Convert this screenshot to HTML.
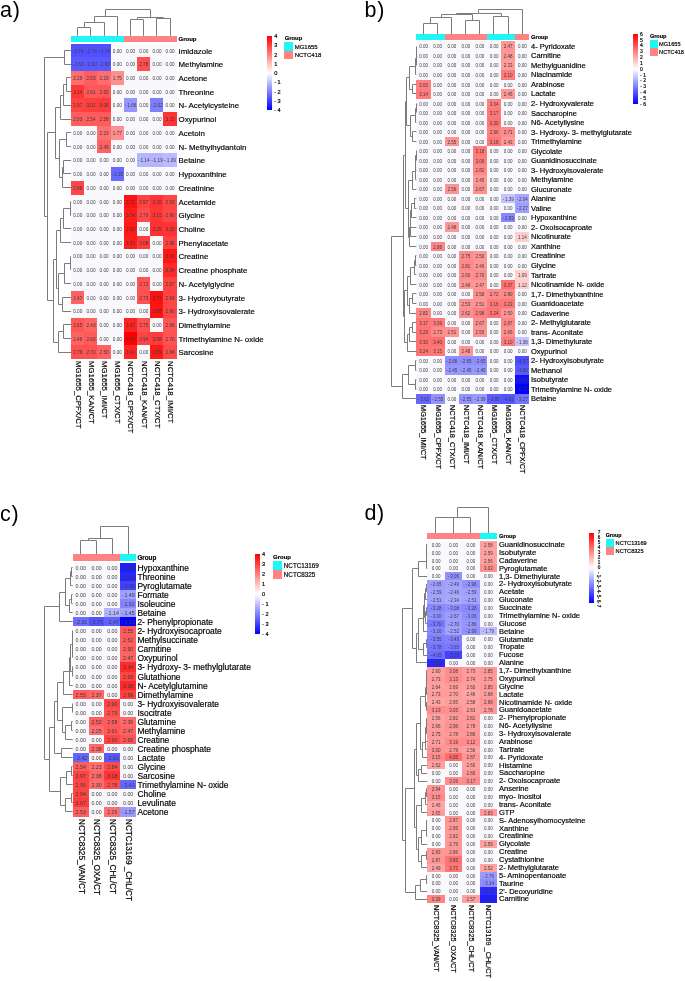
<!DOCTYPE html>
<html><head><meta charset="utf-8"><style>
html,body{margin:0;padding:0;background:#fff;}
body{width:685px;height:981px;position:relative;overflow:hidden;font-family:"Liberation Sans", sans-serif;}
.b{position:absolute;}
.c{position:absolute;text-align:center;color:#3c3c3c;white-space:nowrap;overflow:visible;}
.t{position:absolute;white-space:nowrap;color:#000;-webkit-text-stroke:0.18px #000;}
.gb{font-weight:bold;}
.v{position:absolute;white-space:nowrap;writing-mode:vertical-rl;color:#000;-webkit-text-stroke:0.18px #000;}
svg{position:absolute;left:0;top:0;}
#w{position:absolute;left:0;top:0;width:685px;height:981px;will-change:transform;}
</style></head><body><div id="w">
<div class="b" style="left:71.00px;top:35.80px;width:13.50px;height:6.10px;background:#1ef7f7"></div>
<div class="b" style="left:84.20px;top:35.80px;width:13.50px;height:6.10px;background:#1ef7f7"></div>
<div class="b" style="left:97.40px;top:35.80px;width:13.50px;height:6.10px;background:#1ef7f7"></div>
<div class="b" style="left:110.60px;top:35.80px;width:13.50px;height:6.10px;background:#1ef7f7"></div>
<div class="b" style="left:123.80px;top:35.80px;width:13.50px;height:6.10px;background:#ff8383"></div>
<div class="b" style="left:137.00px;top:35.80px;width:13.50px;height:6.10px;background:#ff8383"></div>
<div class="b" style="left:150.20px;top:35.80px;width:13.50px;height:6.10px;background:#ff8383"></div>
<div class="b" style="left:163.40px;top:35.80px;width:13.50px;height:6.10px;background:#ff8383"></div>
<div class="c" style="left:71.00px;top:43.60px;width:13.50px;height:14.02px;line-height:15.32px;background:rgb(80,80,255);font-size:4.7px">- 2.74</div>
<div class="c" style="left:84.20px;top:43.60px;width:13.50px;height:14.02px;line-height:15.32px;background:rgb(80,80,255);font-size:4.7px">- 2.74</div>
<div class="c" style="left:97.40px;top:43.60px;width:13.50px;height:14.02px;line-height:15.32px;background:rgb(80,80,255);font-size:4.7px">- 2.74</div>
<div class="c" style="left:110.60px;top:43.60px;width:13.50px;height:14.02px;line-height:15.32px;background:#f9f9fd;font-size:4.7px">0.00</div>
<div class="c" style="left:123.80px;top:43.60px;width:13.50px;height:14.02px;line-height:15.32px;background:#f9f9fd;font-size:4.7px">0.00</div>
<div class="c" style="left:137.00px;top:43.60px;width:13.50px;height:14.02px;line-height:15.32px;background:#f9f9fd;font-size:4.7px">0.00</div>
<div class="c" style="left:150.20px;top:43.60px;width:13.50px;height:14.02px;line-height:15.32px;background:#f9f9fd;font-size:4.7px">0.00</div>
<div class="c" style="left:163.40px;top:43.60px;width:13.50px;height:14.02px;line-height:15.32px;background:#f9f9fd;font-size:4.7px">0.00</div>
<div class="c" style="left:71.00px;top:57.32px;width:13.50px;height:14.02px;line-height:15.32px;background:rgb(89,89,255);font-size:4.7px">- 2.60</div>
<div class="c" style="left:84.20px;top:57.32px;width:13.50px;height:14.02px;line-height:15.32px;background:rgb(89,89,255);font-size:4.7px">- 2.60</div>
<div class="c" style="left:97.40px;top:57.32px;width:13.50px;height:14.02px;line-height:15.32px;background:rgb(89,89,255);font-size:4.7px">- 2.60</div>
<div class="c" style="left:110.60px;top:57.32px;width:13.50px;height:14.02px;line-height:15.32px;background:#f9f9fd;font-size:4.7px">0.00</div>
<div class="c" style="left:123.80px;top:57.32px;width:13.50px;height:14.02px;line-height:15.32px;background:#f9f9fd;font-size:4.7px">0.00</div>
<div class="c" style="left:137.00px;top:57.32px;width:13.50px;height:14.02px;line-height:15.32px;background:rgb(255,78,78);font-size:4.7px">2.78</div>
<div class="c" style="left:150.20px;top:57.32px;width:13.50px;height:14.02px;line-height:15.32px;background:#f9f9fd;font-size:4.7px">0.00</div>
<div class="c" style="left:163.40px;top:57.32px;width:13.50px;height:14.02px;line-height:15.32px;background:#f9f9fd;font-size:4.7px">0.00</div>
<div class="c" style="left:71.00px;top:71.04px;width:13.50px;height:14.02px;line-height:15.32px;background:rgb(255,109,109);font-size:4.7px">2.29</div>
<div class="c" style="left:84.20px;top:71.04px;width:13.50px;height:14.02px;line-height:15.32px;background:rgb(255,94,94);font-size:4.7px">2.53</div>
<div class="c" style="left:97.40px;top:71.04px;width:13.50px;height:14.02px;line-height:15.32px;background:rgb(255,109,109);font-size:4.7px">2.29</div>
<div class="c" style="left:110.60px;top:71.04px;width:13.50px;height:14.02px;line-height:15.32px;background:rgb(255,143,143);font-size:4.7px">1.75</div>
<div class="c" style="left:123.80px;top:71.04px;width:13.50px;height:14.02px;line-height:15.32px;background:#f9f9fd;font-size:4.7px">0.00</div>
<div class="c" style="left:137.00px;top:71.04px;width:13.50px;height:14.02px;line-height:15.32px;background:#f9f9fd;font-size:4.7px">0.00</div>
<div class="c" style="left:150.20px;top:71.04px;width:13.50px;height:14.02px;line-height:15.32px;background:#f9f9fd;font-size:4.7px">0.00</div>
<div class="c" style="left:163.40px;top:71.04px;width:13.50px;height:14.02px;line-height:15.32px;background:#f9f9fd;font-size:4.7px">0.00</div>
<div class="c" style="left:71.00px;top:84.76px;width:13.50px;height:14.02px;line-height:15.32px;background:rgb(255,55,55);font-size:4.7px">3.14</div>
<div class="c" style="left:84.20px;top:84.76px;width:13.50px;height:14.02px;line-height:15.32px;background:rgb(255,89,89);font-size:4.7px">2.61</div>
<div class="c" style="left:97.40px;top:84.76px;width:13.50px;height:14.02px;line-height:15.32px;background:rgb(255,86,86);font-size:4.7px">2.65</div>
<div class="c" style="left:110.60px;top:84.76px;width:13.50px;height:14.02px;line-height:15.32px;background:#f9f9fd;font-size:4.7px">0.00</div>
<div class="c" style="left:123.80px;top:84.76px;width:13.50px;height:14.02px;line-height:15.32px;background:#f9f9fd;font-size:4.7px">0.00</div>
<div class="c" style="left:137.00px;top:84.76px;width:13.50px;height:14.02px;line-height:15.32px;background:#f9f9fd;font-size:4.7px">0.00</div>
<div class="c" style="left:150.20px;top:84.76px;width:13.50px;height:14.02px;line-height:15.32px;background:#f9f9fd;font-size:4.7px">0.00</div>
<div class="c" style="left:163.40px;top:84.76px;width:13.50px;height:14.02px;line-height:15.32px;background:#f9f9fd;font-size:4.7px">0.00</div>
<div class="c" style="left:71.00px;top:98.48px;width:13.50px;height:14.02px;line-height:15.32px;background:rgb(255,66,66);font-size:4.7px">2.97</div>
<div class="c" style="left:84.20px;top:98.48px;width:13.50px;height:14.02px;line-height:15.32px;background:rgb(255,62,62);font-size:4.7px">3.02</div>
<div class="c" style="left:97.40px;top:98.48px;width:13.50px;height:14.02px;line-height:15.32px;background:rgb(255,60,60);font-size:4.7px">3.06</div>
<div class="c" style="left:110.60px;top:98.48px;width:13.50px;height:14.02px;line-height:15.32px;background:#f9f9fd;font-size:4.7px">0.00</div>
<div class="c" style="left:123.80px;top:98.48px;width:13.50px;height:14.02px;line-height:15.32px;background:rgb(149,149,255);font-size:4.7px">- 1.66</div>
<div class="c" style="left:137.00px;top:98.48px;width:13.50px;height:14.02px;line-height:15.32px;background:#f9f9fd;font-size:4.7px">0.00</div>
<div class="c" style="left:150.20px;top:98.48px;width:13.50px;height:14.02px;line-height:15.32px;background:rgb(126,126,255);font-size:4.7px">- 2.02</div>
<div class="c" style="left:163.40px;top:98.48px;width:13.50px;height:14.02px;line-height:15.32px;background:#f9f9fd;font-size:4.7px">0.00</div>
<div class="c" style="left:71.00px;top:112.20px;width:13.50px;height:14.02px;line-height:15.32px;background:rgb(255,94,94);font-size:4.7px">2.53</div>
<div class="c" style="left:84.20px;top:112.20px;width:13.50px;height:14.02px;line-height:15.32px;background:rgb(255,93,93);font-size:4.7px">2.54</div>
<div class="c" style="left:97.40px;top:112.20px;width:13.50px;height:14.02px;line-height:15.32px;background:rgb(255,91,91);font-size:4.7px">2.58</div>
<div class="c" style="left:110.60px;top:112.20px;width:13.50px;height:14.02px;line-height:15.32px;background:#f9f9fd;font-size:4.7px">0.00</div>
<div class="c" style="left:123.80px;top:112.20px;width:13.50px;height:14.02px;line-height:15.32px;background:#f9f9fd;font-size:4.7px">0.00</div>
<div class="c" style="left:137.00px;top:112.20px;width:13.50px;height:14.02px;line-height:15.32px;background:#f9f9fd;font-size:4.7px">0.00</div>
<div class="c" style="left:150.20px;top:112.20px;width:13.50px;height:14.02px;line-height:15.32px;background:#f9f9fd;font-size:4.7px">0.00</div>
<div class="c" style="left:163.40px;top:112.20px;width:13.50px;height:14.02px;line-height:15.32px;background:rgb(255,51,51);font-size:4.7px">3.20</div>
<div class="c" style="left:71.00px;top:125.92px;width:13.50px;height:14.02px;line-height:15.32px;background:#f9f9fd;font-size:4.7px">0.00</div>
<div class="c" style="left:84.20px;top:125.92px;width:13.50px;height:14.02px;line-height:15.32px;background:#f9f9fd;font-size:4.7px">0.00</div>
<div class="c" style="left:97.40px;top:125.92px;width:13.50px;height:14.02px;line-height:15.32px;background:rgb(255,113,113);font-size:4.7px">2.23</div>
<div class="c" style="left:110.60px;top:125.92px;width:13.50px;height:14.02px;line-height:15.32px;background:rgb(255,142,142);font-size:4.7px">1.77</div>
<div class="c" style="left:123.80px;top:125.92px;width:13.50px;height:14.02px;line-height:15.32px;background:#f9f9fd;font-size:4.7px">0.00</div>
<div class="c" style="left:137.00px;top:125.92px;width:13.50px;height:14.02px;line-height:15.32px;background:#f9f9fd;font-size:4.7px">0.00</div>
<div class="c" style="left:150.20px;top:125.92px;width:13.50px;height:14.02px;line-height:15.32px;background:#f9f9fd;font-size:4.7px">0.00</div>
<div class="c" style="left:163.40px;top:125.92px;width:13.50px;height:14.02px;line-height:15.32px;background:#f9f9fd;font-size:4.7px">0.00</div>
<div class="c" style="left:71.00px;top:139.64px;width:13.50px;height:14.02px;line-height:15.32px;background:#f9f9fd;font-size:4.7px">0.00</div>
<div class="c" style="left:84.20px;top:139.64px;width:13.50px;height:14.02px;line-height:15.32px;background:#f9f9fd;font-size:4.7px">0.00</div>
<div class="c" style="left:97.40px;top:139.64px;width:13.50px;height:14.02px;line-height:15.32px;background:rgb(255,96,96);font-size:4.7px">2.49</div>
<div class="c" style="left:110.60px;top:139.64px;width:13.50px;height:14.02px;line-height:15.32px;background:#f9f9fd;font-size:4.7px">0.00</div>
<div class="c" style="left:123.80px;top:139.64px;width:13.50px;height:14.02px;line-height:15.32px;background:#f9f9fd;font-size:4.7px">0.00</div>
<div class="c" style="left:137.00px;top:139.64px;width:13.50px;height:14.02px;line-height:15.32px;background:#f9f9fd;font-size:4.7px">0.00</div>
<div class="c" style="left:150.20px;top:139.64px;width:13.50px;height:14.02px;line-height:15.32px;background:#f9f9fd;font-size:4.7px">0.00</div>
<div class="c" style="left:163.40px;top:139.64px;width:13.50px;height:14.02px;line-height:15.32px;background:#f9f9fd;font-size:4.7px">0.00</div>
<div class="c" style="left:71.00px;top:153.36px;width:13.50px;height:14.02px;line-height:15.32px;background:#f9f9fd;font-size:4.7px">0.00</div>
<div class="c" style="left:84.20px;top:153.36px;width:13.50px;height:14.02px;line-height:15.32px;background:#f9f9fd;font-size:4.7px">0.00</div>
<div class="c" style="left:97.40px;top:153.36px;width:13.50px;height:14.02px;line-height:15.32px;background:#f9f9fd;font-size:4.7px">0.00</div>
<div class="c" style="left:110.60px;top:153.36px;width:13.50px;height:14.02px;line-height:15.32px;background:#f9f9fd;font-size:4.7px">0.00</div>
<div class="c" style="left:123.80px;top:153.36px;width:13.50px;height:14.02px;line-height:15.32px;background:#f9f9fd;font-size:4.7px">0.00</div>
<div class="c" style="left:137.00px;top:153.36px;width:13.50px;height:14.02px;line-height:15.32px;background:rgb(182,182,255);font-size:4.7px">- 1.14</div>
<div class="c" style="left:150.20px;top:153.36px;width:13.50px;height:14.02px;line-height:15.32px;background:rgb(179,179,255);font-size:4.7px">- 1.19</div>
<div class="c" style="left:163.40px;top:153.36px;width:13.50px;height:14.02px;line-height:15.32px;background:rgb(186,186,255);font-size:4.7px">- 1.09</div>
<div class="c" style="left:71.00px;top:167.08px;width:13.50px;height:14.02px;line-height:15.32px;background:#f9f9fd;font-size:4.7px">0.00</div>
<div class="c" style="left:84.20px;top:167.08px;width:13.50px;height:14.02px;line-height:15.32px;background:#f9f9fd;font-size:4.7px">0.00</div>
<div class="c" style="left:97.40px;top:167.08px;width:13.50px;height:14.02px;line-height:15.32px;background:#f9f9fd;font-size:4.7px">0.00</div>
<div class="c" style="left:110.60px;top:167.08px;width:13.50px;height:14.02px;line-height:15.32px;background:rgb(105,105,255);font-size:4.7px">- 2.35</div>
<div class="c" style="left:123.80px;top:167.08px;width:13.50px;height:14.02px;line-height:15.32px;background:#f9f9fd;font-size:4.7px">0.00</div>
<div class="c" style="left:137.00px;top:167.08px;width:13.50px;height:14.02px;line-height:15.32px;background:#f9f9fd;font-size:4.7px">0.00</div>
<div class="c" style="left:150.20px;top:167.08px;width:13.50px;height:14.02px;line-height:15.32px;background:#f9f9fd;font-size:4.7px">0.00</div>
<div class="c" style="left:163.40px;top:167.08px;width:13.50px;height:14.02px;line-height:15.32px;background:#f9f9fd;font-size:4.7px">0.00</div>
<div class="c" style="left:71.00px;top:180.80px;width:13.50px;height:14.02px;line-height:15.32px;background:rgb(255,71,71);font-size:4.7px">2.88</div>
<div class="c" style="left:84.20px;top:180.80px;width:13.50px;height:14.02px;line-height:15.32px;background:#f9f9fd;font-size:4.7px">0.00</div>
<div class="c" style="left:97.40px;top:180.80px;width:13.50px;height:14.02px;line-height:15.32px;background:#f9f9fd;font-size:4.7px">0.00</div>
<div class="c" style="left:110.60px;top:180.80px;width:13.50px;height:14.02px;line-height:15.32px;background:#f9f9fd;font-size:4.7px">0.00</div>
<div class="c" style="left:123.80px;top:180.80px;width:13.50px;height:14.02px;line-height:15.32px;background:#f9f9fd;font-size:4.7px">0.00</div>
<div class="c" style="left:137.00px;top:180.80px;width:13.50px;height:14.02px;line-height:15.32px;background:#f9f9fd;font-size:4.7px">0.00</div>
<div class="c" style="left:150.20px;top:180.80px;width:13.50px;height:14.02px;line-height:15.32px;background:#f9f9fd;font-size:4.7px">0.00</div>
<div class="c" style="left:163.40px;top:180.80px;width:13.50px;height:14.02px;line-height:15.32px;background:#f9f9fd;font-size:4.7px">0.00</div>
<div class="c" style="left:71.00px;top:194.52px;width:13.50px;height:14.02px;line-height:15.32px;background:#f9f9fd;font-size:4.7px">0.00</div>
<div class="c" style="left:84.20px;top:194.52px;width:13.50px;height:14.02px;line-height:15.32px;background:#f9f9fd;font-size:4.7px">0.00</div>
<div class="c" style="left:97.40px;top:194.52px;width:13.50px;height:14.02px;line-height:15.32px;background:#f9f9fd;font-size:4.7px">0.00</div>
<div class="c" style="left:110.60px;top:194.52px;width:13.50px;height:14.02px;line-height:15.32px;background:#f9f9fd;font-size:4.7px">0.00</div>
<div class="c" style="left:123.80px;top:194.52px;width:13.50px;height:14.02px;line-height:15.32px;background:rgb(255,18,18);font-size:4.7px">3.72</div>
<div class="c" style="left:137.00px;top:194.52px;width:13.50px;height:14.02px;line-height:15.32px;background:rgb(255,66,66);font-size:4.7px">2.97</div>
<div class="c" style="left:150.20px;top:194.52px;width:13.50px;height:14.02px;line-height:15.32px;background:rgb(255,51,51);font-size:4.7px">3.20</div>
<div class="c" style="left:163.40px;top:194.52px;width:13.50px;height:14.02px;line-height:15.32px;background:rgb(255,69,69);font-size:4.7px">2.92</div>
<div class="c" style="left:71.00px;top:208.24px;width:13.50px;height:14.02px;line-height:15.32px;background:#f9f9fd;font-size:4.7px">0.00</div>
<div class="c" style="left:84.20px;top:208.24px;width:13.50px;height:14.02px;line-height:15.32px;background:#f9f9fd;font-size:4.7px">0.00</div>
<div class="c" style="left:97.40px;top:208.24px;width:13.50px;height:14.02px;line-height:15.32px;background:#f9f9fd;font-size:4.7px">0.00</div>
<div class="c" style="left:110.60px;top:208.24px;width:13.50px;height:14.02px;line-height:15.32px;background:#f9f9fd;font-size:4.7px">0.00</div>
<div class="c" style="left:123.80px;top:208.24px;width:13.50px;height:14.02px;line-height:15.32px;background:rgb(255,29,29);font-size:4.7px">3.54</div>
<div class="c" style="left:137.00px;top:208.24px;width:13.50px;height:14.02px;line-height:15.32px;background:rgb(255,77,77);font-size:4.7px">2.79</div>
<div class="c" style="left:150.20px;top:208.24px;width:13.50px;height:14.02px;line-height:15.32px;background:rgb(255,54,54);font-size:4.7px">3.15</div>
<div class="c" style="left:163.40px;top:208.24px;width:13.50px;height:14.02px;line-height:15.32px;background:rgb(255,70,70);font-size:4.7px">2.90</div>
<div class="c" style="left:71.00px;top:221.96px;width:13.50px;height:14.02px;line-height:15.32px;background:#f9f9fd;font-size:4.7px">0.00</div>
<div class="c" style="left:84.20px;top:221.96px;width:13.50px;height:14.02px;line-height:15.32px;background:#f9f9fd;font-size:4.7px">0.00</div>
<div class="c" style="left:97.40px;top:221.96px;width:13.50px;height:14.02px;line-height:15.32px;background:#f9f9fd;font-size:4.7px">0.00</div>
<div class="c" style="left:110.60px;top:221.96px;width:13.50px;height:14.02px;line-height:15.32px;background:#f9f9fd;font-size:4.7px">0.00</div>
<div class="c" style="left:123.80px;top:221.96px;width:13.50px;height:14.02px;line-height:15.32px;background:rgb(255,24,24);font-size:4.7px">3.62</div>
<div class="c" style="left:137.00px;top:221.96px;width:13.50px;height:14.02px;line-height:15.32px;background:#f9f9fd;font-size:4.7px">0.00</div>
<div class="c" style="left:150.20px;top:221.96px;width:13.50px;height:14.02px;line-height:15.32px;background:rgb(255,48,48);font-size:4.7px">3.25</div>
<div class="c" style="left:163.40px;top:221.96px;width:13.50px;height:14.02px;line-height:15.32px;background:rgb(255,51,51);font-size:4.7px">3.20</div>
<div class="c" style="left:71.00px;top:235.68px;width:13.50px;height:14.02px;line-height:15.32px;background:#f9f9fd;font-size:4.7px">0.00</div>
<div class="c" style="left:84.20px;top:235.68px;width:13.50px;height:14.02px;line-height:15.32px;background:#f9f9fd;font-size:4.7px">0.00</div>
<div class="c" style="left:97.40px;top:235.68px;width:13.50px;height:14.02px;line-height:15.32px;background:#f9f9fd;font-size:4.7px">0.00</div>
<div class="c" style="left:110.60px;top:235.68px;width:13.50px;height:14.02px;line-height:15.32px;background:#f9f9fd;font-size:4.7px">0.00</div>
<div class="c" style="left:123.80px;top:235.68px;width:13.50px;height:14.02px;line-height:15.32px;background:rgb(255,30,30);font-size:4.7px">3.53</div>
<div class="c" style="left:137.00px;top:235.68px;width:13.50px;height:14.02px;line-height:15.32px;background:rgb(255,59,59);font-size:4.7px">3.08</div>
<div class="c" style="left:150.20px;top:235.68px;width:13.50px;height:14.02px;line-height:15.32px;background:#f9f9fd;font-size:4.7px">0.00</div>
<div class="c" style="left:163.40px;top:235.68px;width:13.50px;height:14.02px;line-height:15.32px;background:rgb(255,65,65);font-size:4.7px">2.98</div>
<div class="c" style="left:71.00px;top:249.40px;width:13.50px;height:14.02px;line-height:15.32px;background:#f9f9fd;font-size:4.7px">0.00</div>
<div class="c" style="left:84.20px;top:249.40px;width:13.50px;height:14.02px;line-height:15.32px;background:#f9f9fd;font-size:4.7px">0.00</div>
<div class="c" style="left:97.40px;top:249.40px;width:13.50px;height:14.02px;line-height:15.32px;background:#f9f9fd;font-size:4.7px">0.00</div>
<div class="c" style="left:110.60px;top:249.40px;width:13.50px;height:14.02px;line-height:15.32px;background:#f9f9fd;font-size:4.7px">0.00</div>
<div class="c" style="left:123.80px;top:249.40px;width:13.50px;height:14.02px;line-height:15.32px;background:#f9f9fd;font-size:4.7px">0.00</div>
<div class="c" style="left:137.00px;top:249.40px;width:13.50px;height:14.02px;line-height:15.32px;background:#f9f9fd;font-size:4.7px">0.00</div>
<div class="c" style="left:150.20px;top:249.40px;width:13.50px;height:14.02px;line-height:15.32px;background:#f9f9fd;font-size:4.7px">0.00</div>
<div class="c" style="left:163.40px;top:249.40px;width:13.50px;height:14.02px;line-height:15.32px;background:rgb(255,22,22);font-size:4.7px">3.66</div>
<div class="c" style="left:71.00px;top:263.12px;width:13.50px;height:14.02px;line-height:15.32px;background:#f9f9fd;font-size:4.7px">0.00</div>
<div class="c" style="left:84.20px;top:263.12px;width:13.50px;height:14.02px;line-height:15.32px;background:#f9f9fd;font-size:4.7px">0.00</div>
<div class="c" style="left:97.40px;top:263.12px;width:13.50px;height:14.02px;line-height:15.32px;background:#f9f9fd;font-size:4.7px">0.00</div>
<div class="c" style="left:110.60px;top:263.12px;width:13.50px;height:14.02px;line-height:15.32px;background:#f9f9fd;font-size:4.7px">0.00</div>
<div class="c" style="left:123.80px;top:263.12px;width:13.50px;height:14.02px;line-height:15.32px;background:#f9f9fd;font-size:4.7px">0.00</div>
<div class="c" style="left:137.00px;top:263.12px;width:13.50px;height:14.02px;line-height:15.32px;background:#f9f9fd;font-size:4.7px">0.00</div>
<div class="c" style="left:150.20px;top:263.12px;width:13.50px;height:14.02px;line-height:15.32px;background:#f9f9fd;font-size:4.7px">0.00</div>
<div class="c" style="left:163.40px;top:263.12px;width:13.50px;height:14.02px;line-height:15.32px;background:rgb(255,42,42);font-size:4.7px">3.34</div>
<div class="c" style="left:71.00px;top:276.84px;width:13.50px;height:14.02px;line-height:15.32px;background:#f9f9fd;font-size:4.7px">0.00</div>
<div class="c" style="left:84.20px;top:276.84px;width:13.50px;height:14.02px;line-height:15.32px;background:#f9f9fd;font-size:4.7px">0.00</div>
<div class="c" style="left:97.40px;top:276.84px;width:13.50px;height:14.02px;line-height:15.32px;background:#f9f9fd;font-size:4.7px">0.00</div>
<div class="c" style="left:110.60px;top:276.84px;width:13.50px;height:14.02px;line-height:15.32px;background:#f9f9fd;font-size:4.7px">0.00</div>
<div class="c" style="left:123.80px;top:276.84px;width:13.50px;height:14.02px;line-height:15.32px;background:#f9f9fd;font-size:4.7px">0.00</div>
<div class="c" style="left:137.00px;top:276.84px;width:13.50px;height:14.02px;line-height:15.32px;background:rgb(255,82,82);font-size:4.7px">2.72</div>
<div class="c" style="left:150.20px;top:276.84px;width:13.50px;height:14.02px;line-height:15.32px;background:#f9f9fd;font-size:4.7px">0.00</div>
<div class="c" style="left:163.40px;top:276.84px;width:13.50px;height:14.02px;line-height:15.32px;background:rgb(255,66,66);font-size:4.7px">2.97</div>
<div class="c" style="left:71.00px;top:290.56px;width:13.50px;height:14.02px;line-height:15.32px;background:rgb(255,98,98);font-size:4.7px">2.47</div>
<div class="c" style="left:84.20px;top:290.56px;width:13.50px;height:14.02px;line-height:15.32px;background:#f9f9fd;font-size:4.7px">0.00</div>
<div class="c" style="left:97.40px;top:290.56px;width:13.50px;height:14.02px;line-height:15.32px;background:#f9f9fd;font-size:4.7px">0.00</div>
<div class="c" style="left:110.60px;top:290.56px;width:13.50px;height:14.02px;line-height:15.32px;background:#f9f9fd;font-size:4.7px">0.00</div>
<div class="c" style="left:123.80px;top:290.56px;width:13.50px;height:14.02px;line-height:15.32px;background:#f9f9fd;font-size:4.7px">0.00</div>
<div class="c" style="left:137.00px;top:290.56px;width:13.50px;height:14.02px;line-height:15.32px;background:rgb(255,81,81);font-size:4.7px">2.73</div>
<div class="c" style="left:150.20px;top:290.56px;width:13.50px;height:14.02px;line-height:15.32px;background:rgb(255,16,16);font-size:4.7px">3.75</div>
<div class="c" style="left:163.40px;top:290.56px;width:13.50px;height:14.02px;line-height:15.32px;background:rgb(255,68,68);font-size:4.7px">2.94</div>
<div class="c" style="left:71.00px;top:304.28px;width:13.50px;height:14.02px;line-height:15.32px;background:#f9f9fd;font-size:4.7px">0.00</div>
<div class="c" style="left:84.20px;top:304.28px;width:13.50px;height:14.02px;line-height:15.32px;background:#f9f9fd;font-size:4.7px">0.00</div>
<div class="c" style="left:97.40px;top:304.28px;width:13.50px;height:14.02px;line-height:15.32px;background:#f9f9fd;font-size:4.7px">0.00</div>
<div class="c" style="left:110.60px;top:304.28px;width:13.50px;height:14.02px;line-height:15.32px;background:#f9f9fd;font-size:4.7px">0.00</div>
<div class="c" style="left:123.80px;top:304.28px;width:13.50px;height:14.02px;line-height:15.32px;background:#f9f9fd;font-size:4.7px">0.00</div>
<div class="c" style="left:137.00px;top:304.28px;width:13.50px;height:14.02px;line-height:15.32px;background:#f9f9fd;font-size:4.7px">0.00</div>
<div class="c" style="left:150.20px;top:304.28px;width:13.50px;height:14.02px;line-height:15.32px;background:rgb(255,20,20);font-size:4.7px">3.68</div>
<div class="c" style="left:163.40px;top:304.28px;width:13.50px;height:14.02px;line-height:15.32px;background:rgb(255,70,70);font-size:4.7px">2.90</div>
<div class="c" style="left:71.00px;top:318.00px;width:13.50px;height:14.02px;line-height:15.32px;background:rgb(255,86,86);font-size:4.7px">2.65</div>
<div class="c" style="left:84.20px;top:318.00px;width:13.50px;height:14.02px;line-height:15.32px;background:rgb(255,100,100);font-size:4.7px">2.43</div>
<div class="c" style="left:97.40px;top:318.00px;width:13.50px;height:14.02px;line-height:15.32px;background:#f9f9fd;font-size:4.7px">0.00</div>
<div class="c" style="left:110.60px;top:318.00px;width:13.50px;height:14.02px;line-height:15.32px;background:#f9f9fd;font-size:4.7px">0.00</div>
<div class="c" style="left:123.80px;top:318.00px;width:13.50px;height:14.02px;line-height:15.32px;background:rgb(255,34,34);font-size:4.7px">3.47</div>
<div class="c" style="left:137.00px;top:318.00px;width:13.50px;height:14.02px;line-height:15.32px;background:rgb(255,80,80);font-size:4.7px">2.75</div>
<div class="c" style="left:150.20px;top:318.00px;width:13.50px;height:14.02px;line-height:15.32px;background:#f9f9fd;font-size:4.7px">0.00</div>
<div class="c" style="left:163.40px;top:318.00px;width:13.50px;height:14.02px;line-height:15.32px;background:rgb(255,85,85);font-size:4.7px">2.66</div>
<div class="c" style="left:71.00px;top:331.72px;width:13.50px;height:14.02px;line-height:15.32px;background:rgb(255,98,98);font-size:4.7px">2.46</div>
<div class="c" style="left:84.20px;top:331.72px;width:13.50px;height:14.02px;line-height:15.32px;background:rgb(255,89,89);font-size:4.7px">2.60</div>
<div class="c" style="left:97.40px;top:331.72px;width:13.50px;height:14.02px;line-height:15.32px;background:#f9f9fd;font-size:4.7px">0.00</div>
<div class="c" style="left:110.60px;top:331.72px;width:13.50px;height:14.02px;line-height:15.32px;background:#f9f9fd;font-size:4.7px">0.00</div>
<div class="c" style="left:123.80px;top:331.72px;width:13.50px;height:14.02px;line-height:15.32px;background:rgb(255,0,0);font-size:4.7px">4.09</div>
<div class="c" style="left:137.00px;top:331.72px;width:13.50px;height:14.02px;line-height:15.32px;background:rgb(255,68,68);font-size:4.7px">2.94</div>
<div class="c" style="left:150.20px;top:331.72px;width:13.50px;height:14.02px;line-height:15.32px;background:rgb(255,59,59);font-size:4.7px">3.08</div>
<div class="c" style="left:163.40px;top:331.72px;width:13.50px;height:14.02px;line-height:15.32px;background:rgb(255,83,83);font-size:4.7px">2.70</div>
<div class="c" style="left:71.00px;top:345.44px;width:13.50px;height:14.02px;line-height:15.32px;background:rgb(255,79,79);font-size:4.7px">2.76</div>
<div class="c" style="left:84.20px;top:345.44px;width:13.50px;height:14.02px;line-height:15.32px;background:rgb(255,83,83);font-size:4.7px">2.70</div>
<div class="c" style="left:97.40px;top:345.44px;width:13.50px;height:14.02px;line-height:15.32px;background:rgb(255,96,96);font-size:4.7px">2.50</div>
<div class="c" style="left:110.60px;top:345.44px;width:13.50px;height:14.02px;line-height:15.32px;background:#f9f9fd;font-size:4.7px">0.00</div>
<div class="c" style="left:123.80px;top:345.44px;width:13.50px;height:14.02px;line-height:15.32px;background:rgb(255,37,37);font-size:4.7px">3.42</div>
<div class="c" style="left:137.00px;top:345.44px;width:13.50px;height:14.02px;line-height:15.32px;background:#f9f9fd;font-size:4.7px">0.00</div>
<div class="c" style="left:150.20px;top:345.44px;width:13.50px;height:14.02px;line-height:15.32px;background:rgb(255,26,26);font-size:4.7px">3.59</div>
<div class="c" style="left:163.40px;top:345.44px;width:13.50px;height:14.02px;line-height:15.32px;background:rgb(255,74,74);font-size:4.7px">2.84</div>
<div class="t" style="left:178.50px;top:43.60px;height:13.72px;line-height:16.12px;font-size:7.9px">Imidazole</div>
<div class="t" style="left:178.50px;top:57.32px;height:13.72px;line-height:16.12px;font-size:7.9px">Methylamine</div>
<div class="t" style="left:178.50px;top:71.04px;height:13.72px;line-height:16.12px;font-size:7.9px">Acetone</div>
<div class="t" style="left:178.50px;top:84.76px;height:13.72px;line-height:16.12px;font-size:7.9px">Threonine</div>
<div class="t" style="left:178.50px;top:98.48px;height:13.72px;line-height:16.12px;font-size:7.9px">N- Acetylcysteine</div>
<div class="t" style="left:178.50px;top:112.20px;height:13.72px;line-height:16.12px;font-size:7.9px">Oxypurinol</div>
<div class="t" style="left:178.50px;top:125.92px;height:13.72px;line-height:16.12px;font-size:7.9px">Acetoin</div>
<div class="t" style="left:178.50px;top:139.64px;height:13.72px;line-height:16.12px;font-size:7.9px">N- Methylhydantoin</div>
<div class="t" style="left:178.50px;top:153.36px;height:13.72px;line-height:16.12px;font-size:7.9px">Betaine</div>
<div class="t" style="left:178.50px;top:167.08px;height:13.72px;line-height:16.12px;font-size:7.9px">Hypoxanthine</div>
<div class="t" style="left:178.50px;top:180.80px;height:13.72px;line-height:16.12px;font-size:7.9px">Creatinine</div>
<div class="t" style="left:178.50px;top:194.52px;height:13.72px;line-height:16.12px;font-size:7.9px">Acetamide</div>
<div class="t" style="left:178.50px;top:208.24px;height:13.72px;line-height:16.12px;font-size:7.9px">Glycine</div>
<div class="t" style="left:178.50px;top:221.96px;height:13.72px;line-height:16.12px;font-size:7.9px">Choline</div>
<div class="t" style="left:178.50px;top:235.68px;height:13.72px;line-height:16.12px;font-size:7.9px">Phenylacetate</div>
<div class="t" style="left:178.50px;top:249.40px;height:13.72px;line-height:16.12px;font-size:7.9px">Creatine</div>
<div class="t" style="left:178.50px;top:263.12px;height:13.72px;line-height:16.12px;font-size:7.9px">Creatine phosphate</div>
<div class="t" style="left:178.50px;top:276.84px;height:13.72px;line-height:16.12px;font-size:7.9px">N- Acetylglycine</div>
<div class="t" style="left:178.50px;top:290.56px;height:13.72px;line-height:16.12px;font-size:7.9px">3- Hydroxybutyrate</div>
<div class="t" style="left:178.50px;top:304.28px;height:13.72px;line-height:16.12px;font-size:7.9px">3- Hydroxyisovalerate</div>
<div class="t" style="left:178.50px;top:318.00px;height:13.72px;line-height:16.12px;font-size:7.9px">Dimethylamine</div>
<div class="t" style="left:178.50px;top:331.72px;height:13.72px;line-height:16.12px;font-size:7.9px">Trimethylamine N- oxide</div>
<div class="t" style="left:178.50px;top:345.44px;height:13.72px;line-height:16.12px;font-size:7.9px">Sarcosine</div>
<div class="t gb" style="left:178.50px;top:33.85px;line-height:10px;font-size:6.0px">Group</div>
<div class="v" style="left:72.60px;top:361.00px;width:10px;line-height:10px;font-size:7.8px">MG1655_CPFX/CT</div>
<div class="v" style="left:85.80px;top:361.00px;width:10px;line-height:10px;font-size:7.8px">MG1655_KAN/CT</div>
<div class="v" style="left:99.00px;top:361.00px;width:10px;line-height:10px;font-size:7.8px">MG1655_IMI/CT</div>
<div class="v" style="left:112.20px;top:361.00px;width:10px;line-height:10px;font-size:7.8px">MG1655_CTX/CT</div>
<div class="v" style="left:125.40px;top:361.00px;width:10px;line-height:10px;font-size:7.8px">NCTC418_CPFX/CT</div>
<div class="v" style="left:138.60px;top:361.00px;width:10px;line-height:10px;font-size:7.8px">NCTC418_KAN/CT</div>
<div class="v" style="left:151.80px;top:361.00px;width:10px;line-height:10px;font-size:7.8px">NCTC418_CTX/CT</div>
<div class="v" style="left:165.00px;top:361.00px;width:10px;line-height:10px;font-size:7.8px">NCTC418_IMI/CT</div>
<div class="b" style="left:267.20px;top:35.90px;width:5.20px;height:74.50px;background:linear-gradient(to bottom,#ff0000,#ffffff,#0000ff)"></div>
<div class="t" style="left:274.20px;top:30.90px;line-height:10px;font-size:5.6px">4</div>
<div class="t" style="left:274.20px;top:40.21px;line-height:10px;font-size:5.6px">3</div>
<div class="t" style="left:274.20px;top:49.52px;line-height:10px;font-size:5.6px">2</div>
<div class="t" style="left:274.20px;top:58.84px;line-height:10px;font-size:5.6px">1</div>
<div class="t" style="left:274.20px;top:68.15px;line-height:10px;font-size:5.6px">0</div>
<div class="t" style="left:274.20px;top:77.46px;line-height:10px;font-size:5.6px">- 1</div>
<div class="t" style="left:274.20px;top:86.78px;line-height:10px;font-size:5.6px">- 2</div>
<div class="t" style="left:274.20px;top:96.09px;line-height:10px;font-size:5.6px">- 3</div>
<div class="t" style="left:274.20px;top:105.40px;line-height:10px;font-size:5.6px">- 4</div>
<div class="t gb" style="left:284.80px;top:33.00px;line-height:10px;font-size:5.8px">Group</div>
<div class="b" style="left:284.40px;top:42.40px;width:8.40px;height:8.30px;background:#1ef7f7"></div>
<div class="b" style="left:284.40px;top:50.70px;width:8.40px;height:8.20px;background:#ff8383"></div>
<div class="t" style="left:294.70px;top:41.70px;line-height:10px;font-size:6.0px">MG1655</div>
<div class="t" style="left:294.70px;top:50.00px;line-height:10px;font-size:6.0px">NCTC418</div>
<div class="t" style="left:0.00px;top:-2.20px;line-height:24px;letter-spacing:0.7px;-webkit-text-stroke:0;font-size:21.5px">a)</div>
<div class="b" style="left:416.40px;top:34.40px;width:14.40px;height:5.20px;background:#1ef7f7"></div>
<div class="b" style="left:430.50px;top:34.40px;width:14.40px;height:5.20px;background:#1ef7f7"></div>
<div class="b" style="left:444.60px;top:34.40px;width:14.40px;height:5.20px;background:#ff8383"></div>
<div class="b" style="left:458.70px;top:34.40px;width:14.40px;height:5.20px;background:#ff8383"></div>
<div class="b" style="left:472.80px;top:34.40px;width:14.40px;height:5.20px;background:#ff8383"></div>
<div class="b" style="left:486.90px;top:34.40px;width:14.40px;height:5.20px;background:#1ef7f7"></div>
<div class="b" style="left:501.00px;top:34.40px;width:14.40px;height:5.20px;background:#1ef7f7"></div>
<div class="b" style="left:515.10px;top:34.40px;width:14.40px;height:5.20px;background:#ff8383"></div>
<div class="c" style="left:416.40px;top:41.40px;width:14.40px;height:9.83px;line-height:11.33px;background:#f9f9fd;font-size:4.5px">0.00</div>
<div class="c" style="left:430.50px;top:41.40px;width:14.40px;height:9.83px;line-height:11.33px;background:#f9f9fd;font-size:4.5px">0.00</div>
<div class="c" style="left:444.60px;top:41.40px;width:14.40px;height:9.83px;line-height:11.33px;background:#f9f9fd;font-size:4.5px">0.00</div>
<div class="c" style="left:458.70px;top:41.40px;width:14.40px;height:9.83px;line-height:11.33px;background:#f9f9fd;font-size:4.5px">0.00</div>
<div class="c" style="left:472.80px;top:41.40px;width:14.40px;height:9.83px;line-height:11.33px;background:#f9f9fd;font-size:4.5px">0.00</div>
<div class="c" style="left:486.90px;top:41.40px;width:14.40px;height:9.83px;line-height:11.33px;background:#f9f9fd;font-size:4.5px">0.00</div>
<div class="c" style="left:501.00px;top:41.40px;width:14.40px;height:9.83px;line-height:11.33px;background:rgb(255,150,150);font-size:4.5px">2.47</div>
<div class="c" style="left:515.10px;top:41.40px;width:14.40px;height:9.83px;line-height:11.33px;background:#f9f9fd;font-size:4.5px">0.00</div>
<div class="c" style="left:416.40px;top:50.93px;width:14.40px;height:9.83px;line-height:11.33px;background:#f9f9fd;font-size:4.5px">0.00</div>
<div class="c" style="left:430.50px;top:50.93px;width:14.40px;height:9.83px;line-height:11.33px;background:#f9f9fd;font-size:4.5px">0.00</div>
<div class="c" style="left:444.60px;top:50.93px;width:14.40px;height:9.83px;line-height:11.33px;background:#f9f9fd;font-size:4.5px">0.00</div>
<div class="c" style="left:458.70px;top:50.93px;width:14.40px;height:9.83px;line-height:11.33px;background:#f9f9fd;font-size:4.5px">0.00</div>
<div class="c" style="left:472.80px;top:50.93px;width:14.40px;height:9.83px;line-height:11.33px;background:#f9f9fd;font-size:4.5px">0.00</div>
<div class="c" style="left:486.90px;top:50.93px;width:14.40px;height:9.83px;line-height:11.33px;background:#f9f9fd;font-size:4.5px">0.00</div>
<div class="c" style="left:501.00px;top:50.93px;width:14.40px;height:9.83px;line-height:11.33px;background:rgb(255,150,150);font-size:4.5px">2.48</div>
<div class="c" style="left:515.10px;top:50.93px;width:14.40px;height:9.83px;line-height:11.33px;background:#f9f9fd;font-size:4.5px">0.00</div>
<div class="c" style="left:416.40px;top:60.46px;width:14.40px;height:9.83px;line-height:11.33px;background:#f9f9fd;font-size:4.5px">0.00</div>
<div class="c" style="left:430.50px;top:60.46px;width:14.40px;height:9.83px;line-height:11.33px;background:#f9f9fd;font-size:4.5px">0.00</div>
<div class="c" style="left:444.60px;top:60.46px;width:14.40px;height:9.83px;line-height:11.33px;background:#f9f9fd;font-size:4.5px">0.00</div>
<div class="c" style="left:458.70px;top:60.46px;width:14.40px;height:9.83px;line-height:11.33px;background:#f9f9fd;font-size:4.5px">0.00</div>
<div class="c" style="left:472.80px;top:60.46px;width:14.40px;height:9.83px;line-height:11.33px;background:#f9f9fd;font-size:4.5px">0.00</div>
<div class="c" style="left:486.90px;top:60.46px;width:14.40px;height:9.83px;line-height:11.33px;background:#f9f9fd;font-size:4.5px">0.00</div>
<div class="c" style="left:501.00px;top:60.46px;width:14.40px;height:9.83px;line-height:11.33px;background:rgb(255,156,156);font-size:4.5px">2.33</div>
<div class="c" style="left:515.10px;top:60.46px;width:14.40px;height:9.83px;line-height:11.33px;background:#f9f9fd;font-size:4.5px">0.00</div>
<div class="c" style="left:416.40px;top:69.99px;width:14.40px;height:9.83px;line-height:11.33px;background:#f9f9fd;font-size:4.5px">0.00</div>
<div class="c" style="left:430.50px;top:69.99px;width:14.40px;height:9.83px;line-height:11.33px;background:#f9f9fd;font-size:4.5px">0.00</div>
<div class="c" style="left:444.60px;top:69.99px;width:14.40px;height:9.83px;line-height:11.33px;background:#f9f9fd;font-size:4.5px">0.00</div>
<div class="c" style="left:458.70px;top:69.99px;width:14.40px;height:9.83px;line-height:11.33px;background:#f9f9fd;font-size:4.5px">0.00</div>
<div class="c" style="left:472.80px;top:69.99px;width:14.40px;height:9.83px;line-height:11.33px;background:#f9f9fd;font-size:4.5px">0.00</div>
<div class="c" style="left:486.90px;top:69.99px;width:14.40px;height:9.83px;line-height:11.33px;background:#f9f9fd;font-size:4.5px">0.00</div>
<div class="c" style="left:501.00px;top:69.99px;width:14.40px;height:9.83px;line-height:11.33px;background:rgb(255,123,123);font-size:4.5px">3.10</div>
<div class="c" style="left:515.10px;top:69.99px;width:14.40px;height:9.83px;line-height:11.33px;background:#f9f9fd;font-size:4.5px">0.00</div>
<div class="c" style="left:416.40px;top:79.52px;width:14.40px;height:9.83px;line-height:11.33px;background:rgb(255,128,128);font-size:4.5px">3.00</div>
<div class="c" style="left:430.50px;top:79.52px;width:14.40px;height:9.83px;line-height:11.33px;background:#f9f9fd;font-size:4.5px">0.00</div>
<div class="c" style="left:444.60px;top:79.52px;width:14.40px;height:9.83px;line-height:11.33px;background:#f9f9fd;font-size:4.5px">0.00</div>
<div class="c" style="left:458.70px;top:79.52px;width:14.40px;height:9.83px;line-height:11.33px;background:#f9f9fd;font-size:4.5px">0.00</div>
<div class="c" style="left:472.80px;top:79.52px;width:14.40px;height:9.83px;line-height:11.33px;background:#f9f9fd;font-size:4.5px">0.00</div>
<div class="c" style="left:486.90px;top:79.52px;width:14.40px;height:9.83px;line-height:11.33px;background:#f9f9fd;font-size:4.5px">0.00</div>
<div class="c" style="left:501.00px;top:79.52px;width:14.40px;height:9.83px;line-height:11.33px;background:#f9f9fd;font-size:4.5px">0.00</div>
<div class="c" style="left:515.10px;top:79.52px;width:14.40px;height:9.83px;line-height:11.33px;background:#f9f9fd;font-size:4.5px">0.00</div>
<div class="c" style="left:416.40px;top:89.05px;width:14.40px;height:9.83px;line-height:11.33px;background:rgb(255,122,122);font-size:4.5px">3.14</div>
<div class="c" style="left:430.50px;top:89.05px;width:14.40px;height:9.83px;line-height:11.33px;background:#f9f9fd;font-size:4.5px">0.00</div>
<div class="c" style="left:444.60px;top:89.05px;width:14.40px;height:9.83px;line-height:11.33px;background:#f9f9fd;font-size:4.5px">0.00</div>
<div class="c" style="left:458.70px;top:89.05px;width:14.40px;height:9.83px;line-height:11.33px;background:#f9f9fd;font-size:4.5px">0.00</div>
<div class="c" style="left:472.80px;top:89.05px;width:14.40px;height:9.83px;line-height:11.33px;background:#f9f9fd;font-size:4.5px">0.00</div>
<div class="c" style="left:486.90px;top:89.05px;width:14.40px;height:9.83px;line-height:11.33px;background:#f9f9fd;font-size:4.5px">0.00</div>
<div class="c" style="left:501.00px;top:89.05px;width:14.40px;height:9.83px;line-height:11.33px;background:rgb(255,151,151);font-size:4.5px">2.45</div>
<div class="c" style="left:515.10px;top:89.05px;width:14.40px;height:9.83px;line-height:11.33px;background:#f9f9fd;font-size:4.5px">0.00</div>
<div class="c" style="left:416.40px;top:98.58px;width:14.40px;height:9.83px;line-height:11.33px;background:#f9f9fd;font-size:4.5px">0.00</div>
<div class="c" style="left:430.50px;top:98.58px;width:14.40px;height:9.83px;line-height:11.33px;background:#f9f9fd;font-size:4.5px">0.00</div>
<div class="c" style="left:444.60px;top:98.58px;width:14.40px;height:9.83px;line-height:11.33px;background:#f9f9fd;font-size:4.5px">0.00</div>
<div class="c" style="left:458.70px;top:98.58px;width:14.40px;height:9.83px;line-height:11.33px;background:#f9f9fd;font-size:4.5px">0.00</div>
<div class="c" style="left:472.80px;top:98.58px;width:14.40px;height:9.83px;line-height:11.33px;background:#f9f9fd;font-size:4.5px">0.00</div>
<div class="c" style="left:486.90px;top:98.58px;width:14.40px;height:9.83px;line-height:11.33px;background:rgb(255,126,126);font-size:4.5px">3.04</div>
<div class="c" style="left:501.00px;top:98.58px;width:14.40px;height:9.83px;line-height:11.33px;background:#f9f9fd;font-size:4.5px">0.00</div>
<div class="c" style="left:515.10px;top:98.58px;width:14.40px;height:9.83px;line-height:11.33px;background:#f9f9fd;font-size:4.5px">0.00</div>
<div class="c" style="left:416.40px;top:108.11px;width:14.40px;height:9.83px;line-height:11.33px;background:#f9f9fd;font-size:4.5px">0.00</div>
<div class="c" style="left:430.50px;top:108.11px;width:14.40px;height:9.83px;line-height:11.33px;background:#f9f9fd;font-size:4.5px">0.00</div>
<div class="c" style="left:444.60px;top:108.11px;width:14.40px;height:9.83px;line-height:11.33px;background:#f9f9fd;font-size:4.5px">0.00</div>
<div class="c" style="left:458.70px;top:108.11px;width:14.40px;height:9.83px;line-height:11.33px;background:#f9f9fd;font-size:4.5px">0.00</div>
<div class="c" style="left:472.80px;top:108.11px;width:14.40px;height:9.83px;line-height:11.33px;background:#f9f9fd;font-size:4.5px">0.00</div>
<div class="c" style="left:486.90px;top:108.11px;width:14.40px;height:9.83px;line-height:11.33px;background:rgb(255,120,120);font-size:4.5px">3.17</div>
<div class="c" style="left:501.00px;top:108.11px;width:14.40px;height:9.83px;line-height:11.33px;background:#f9f9fd;font-size:4.5px">0.00</div>
<div class="c" style="left:515.10px;top:108.11px;width:14.40px;height:9.83px;line-height:11.33px;background:#f9f9fd;font-size:4.5px">0.00</div>
<div class="c" style="left:416.40px;top:117.64px;width:14.40px;height:9.83px;line-height:11.33px;background:#f9f9fd;font-size:4.5px">0.00</div>
<div class="c" style="left:430.50px;top:117.64px;width:14.40px;height:9.83px;line-height:11.33px;background:#f9f9fd;font-size:4.5px">0.00</div>
<div class="c" style="left:444.60px;top:117.64px;width:14.40px;height:9.83px;line-height:11.33px;background:#f9f9fd;font-size:4.5px">0.00</div>
<div class="c" style="left:458.70px;top:117.64px;width:14.40px;height:9.83px;line-height:11.33px;background:#f9f9fd;font-size:4.5px">0.00</div>
<div class="c" style="left:472.80px;top:117.64px;width:14.40px;height:9.83px;line-height:11.33px;background:#f9f9fd;font-size:4.5px">0.00</div>
<div class="c" style="left:486.90px;top:117.64px;width:14.40px;height:9.83px;line-height:11.33px;background:rgb(255,115,115);font-size:4.5px">3.30</div>
<div class="c" style="left:501.00px;top:117.64px;width:14.40px;height:9.83px;line-height:11.33px;background:#f9f9fd;font-size:4.5px">0.00</div>
<div class="c" style="left:515.10px;top:117.64px;width:14.40px;height:9.83px;line-height:11.33px;background:#f9f9fd;font-size:4.5px">0.00</div>
<div class="c" style="left:416.40px;top:127.17px;width:14.40px;height:9.83px;line-height:11.33px;background:#f9f9fd;font-size:4.5px">0.00</div>
<div class="c" style="left:430.50px;top:127.17px;width:14.40px;height:9.83px;line-height:11.33px;background:#f9f9fd;font-size:4.5px">0.00</div>
<div class="c" style="left:444.60px;top:127.17px;width:14.40px;height:9.83px;line-height:11.33px;background:#f9f9fd;font-size:4.5px">0.00</div>
<div class="c" style="left:458.70px;top:127.17px;width:14.40px;height:9.83px;line-height:11.33px;background:#f9f9fd;font-size:4.5px">0.00</div>
<div class="c" style="left:472.80px;top:127.17px;width:14.40px;height:9.83px;line-height:11.33px;background:#f9f9fd;font-size:4.5px">0.00</div>
<div class="c" style="left:486.90px;top:127.17px;width:14.40px;height:9.83px;line-height:11.33px;background:rgb(255,129,129);font-size:4.5px">2.96</div>
<div class="c" style="left:501.00px;top:127.17px;width:14.40px;height:9.83px;line-height:11.33px;background:rgb(255,140,140);font-size:4.5px">2.71</div>
<div class="c" style="left:515.10px;top:127.17px;width:14.40px;height:9.83px;line-height:11.33px;background:#f9f9fd;font-size:4.5px">0.00</div>
<div class="c" style="left:416.40px;top:136.70px;width:14.40px;height:9.83px;line-height:11.33px;background:#f9f9fd;font-size:4.5px">0.00</div>
<div class="c" style="left:430.50px;top:136.70px;width:14.40px;height:9.83px;line-height:11.33px;background:#f9f9fd;font-size:4.5px">0.00</div>
<div class="c" style="left:444.60px;top:136.70px;width:14.40px;height:9.83px;line-height:11.33px;background:rgb(255,147,147);font-size:4.5px">2.55</div>
<div class="c" style="left:458.70px;top:136.70px;width:14.40px;height:9.83px;line-height:11.33px;background:#f9f9fd;font-size:4.5px">0.00</div>
<div class="c" style="left:472.80px;top:136.70px;width:14.40px;height:9.83px;line-height:11.33px;background:#f9f9fd;font-size:4.5px">0.00</div>
<div class="c" style="left:486.90px;top:136.70px;width:14.40px;height:9.83px;line-height:11.33px;background:rgb(255,120,120);font-size:4.5px">3.18</div>
<div class="c" style="left:501.00px;top:136.70px;width:14.40px;height:9.83px;line-height:11.33px;background:rgb(255,152,152);font-size:4.5px">2.43</div>
<div class="c" style="left:515.10px;top:136.70px;width:14.40px;height:9.83px;line-height:11.33px;background:#f9f9fd;font-size:4.5px">0.00</div>
<div class="c" style="left:416.40px;top:146.23px;width:14.40px;height:9.83px;line-height:11.33px;background:#f9f9fd;font-size:4.5px">0.00</div>
<div class="c" style="left:430.50px;top:146.23px;width:14.40px;height:9.83px;line-height:11.33px;background:#f9f9fd;font-size:4.5px">0.00</div>
<div class="c" style="left:444.60px;top:146.23px;width:14.40px;height:9.83px;line-height:11.33px;background:#f9f9fd;font-size:4.5px">0.00</div>
<div class="c" style="left:458.70px;top:146.23px;width:14.40px;height:9.83px;line-height:11.33px;background:#f9f9fd;font-size:4.5px">0.00</div>
<div class="c" style="left:472.80px;top:146.23px;width:14.40px;height:9.83px;line-height:11.33px;background:rgb(255,120,120);font-size:4.5px">3.18</div>
<div class="c" style="left:486.90px;top:146.23px;width:14.40px;height:9.83px;line-height:11.33px;background:#f9f9fd;font-size:4.5px">0.00</div>
<div class="c" style="left:501.00px;top:146.23px;width:14.40px;height:9.83px;line-height:11.33px;background:#f9f9fd;font-size:4.5px">0.00</div>
<div class="c" style="left:515.10px;top:146.23px;width:14.40px;height:9.83px;line-height:11.33px;background:#f9f9fd;font-size:4.5px">0.00</div>
<div class="c" style="left:416.40px;top:155.76px;width:14.40px;height:9.83px;line-height:11.33px;background:#f9f9fd;font-size:4.5px">0.00</div>
<div class="c" style="left:430.50px;top:155.76px;width:14.40px;height:9.83px;line-height:11.33px;background:#f9f9fd;font-size:4.5px">0.00</div>
<div class="c" style="left:444.60px;top:155.76px;width:14.40px;height:9.83px;line-height:11.33px;background:#f9f9fd;font-size:4.5px">0.00</div>
<div class="c" style="left:458.70px;top:155.76px;width:14.40px;height:9.83px;line-height:11.33px;background:#f9f9fd;font-size:4.5px">0.00</div>
<div class="c" style="left:472.80px;top:155.76px;width:14.40px;height:9.83px;line-height:11.33px;background:rgb(255,125,125);font-size:4.5px">3.06</div>
<div class="c" style="left:486.90px;top:155.76px;width:14.40px;height:9.83px;line-height:11.33px;background:#f9f9fd;font-size:4.5px">0.00</div>
<div class="c" style="left:501.00px;top:155.76px;width:14.40px;height:9.83px;line-height:11.33px;background:#f9f9fd;font-size:4.5px">0.00</div>
<div class="c" style="left:515.10px;top:155.76px;width:14.40px;height:9.83px;line-height:11.33px;background:#f9f9fd;font-size:4.5px">0.00</div>
<div class="c" style="left:416.40px;top:165.29px;width:14.40px;height:9.83px;line-height:11.33px;background:#f9f9fd;font-size:4.5px">0.00</div>
<div class="c" style="left:430.50px;top:165.29px;width:14.40px;height:9.83px;line-height:11.33px;background:#f9f9fd;font-size:4.5px">0.00</div>
<div class="c" style="left:444.60px;top:165.29px;width:14.40px;height:9.83px;line-height:11.33px;background:#f9f9fd;font-size:4.5px">0.00</div>
<div class="c" style="left:458.70px;top:165.29px;width:14.40px;height:9.83px;line-height:11.33px;background:#f9f9fd;font-size:4.5px">0.00</div>
<div class="c" style="left:472.80px;top:165.29px;width:14.40px;height:9.83px;line-height:11.33px;background:rgb(255,135,135);font-size:4.5px">2.82</div>
<div class="c" style="left:486.90px;top:165.29px;width:14.40px;height:9.83px;line-height:11.33px;background:#f9f9fd;font-size:4.5px">0.00</div>
<div class="c" style="left:501.00px;top:165.29px;width:14.40px;height:9.83px;line-height:11.33px;background:#f9f9fd;font-size:4.5px">0.00</div>
<div class="c" style="left:515.10px;top:165.29px;width:14.40px;height:9.83px;line-height:11.33px;background:#f9f9fd;font-size:4.5px">0.00</div>
<div class="c" style="left:416.40px;top:174.82px;width:14.40px;height:9.83px;line-height:11.33px;background:#f9f9fd;font-size:4.5px">0.00</div>
<div class="c" style="left:430.50px;top:174.82px;width:14.40px;height:9.83px;line-height:11.33px;background:#f9f9fd;font-size:4.5px">0.00</div>
<div class="c" style="left:444.60px;top:174.82px;width:14.40px;height:9.83px;line-height:11.33px;background:#f9f9fd;font-size:4.5px">0.00</div>
<div class="c" style="left:458.70px;top:174.82px;width:14.40px;height:9.83px;line-height:11.33px;background:#f9f9fd;font-size:4.5px">0.00</div>
<div class="c" style="left:472.80px;top:174.82px;width:14.40px;height:9.83px;line-height:11.33px;background:rgb(255,151,151);font-size:4.5px">2.45</div>
<div class="c" style="left:486.90px;top:174.82px;width:14.40px;height:9.83px;line-height:11.33px;background:#f9f9fd;font-size:4.5px">0.00</div>
<div class="c" style="left:501.00px;top:174.82px;width:14.40px;height:9.83px;line-height:11.33px;background:#f9f9fd;font-size:4.5px">0.00</div>
<div class="c" style="left:515.10px;top:174.82px;width:14.40px;height:9.83px;line-height:11.33px;background:#f9f9fd;font-size:4.5px">0.00</div>
<div class="c" style="left:416.40px;top:184.35px;width:14.40px;height:9.83px;line-height:11.33px;background:#f9f9fd;font-size:4.5px">0.00</div>
<div class="c" style="left:430.50px;top:184.35px;width:14.40px;height:9.83px;line-height:11.33px;background:#f9f9fd;font-size:4.5px">0.00</div>
<div class="c" style="left:444.60px;top:184.35px;width:14.40px;height:9.83px;line-height:11.33px;background:rgb(255,146,146);font-size:4.5px">2.56</div>
<div class="c" style="left:458.70px;top:184.35px;width:14.40px;height:9.83px;line-height:11.33px;background:#f9f9fd;font-size:4.5px">0.00</div>
<div class="c" style="left:472.80px;top:184.35px;width:14.40px;height:9.83px;line-height:11.33px;background:rgb(255,142,142);font-size:4.5px">2.67</div>
<div class="c" style="left:486.90px;top:184.35px;width:14.40px;height:9.83px;line-height:11.33px;background:#f9f9fd;font-size:4.5px">0.00</div>
<div class="c" style="left:501.00px;top:184.35px;width:14.40px;height:9.83px;line-height:11.33px;background:#f9f9fd;font-size:4.5px">0.00</div>
<div class="c" style="left:515.10px;top:184.35px;width:14.40px;height:9.83px;line-height:11.33px;background:#f9f9fd;font-size:4.5px">0.00</div>
<div class="c" style="left:416.40px;top:193.88px;width:14.40px;height:9.83px;line-height:11.33px;background:#f9f9fd;font-size:4.5px">0.00</div>
<div class="c" style="left:430.50px;top:193.88px;width:14.40px;height:9.83px;line-height:11.33px;background:#f9f9fd;font-size:4.5px">0.00</div>
<div class="c" style="left:444.60px;top:193.88px;width:14.40px;height:9.83px;line-height:11.33px;background:#f9f9fd;font-size:4.5px">0.00</div>
<div class="c" style="left:458.70px;top:193.88px;width:14.40px;height:9.83px;line-height:11.33px;background:#f9f9fd;font-size:4.5px">0.00</div>
<div class="c" style="left:472.80px;top:193.88px;width:14.40px;height:9.83px;line-height:11.33px;background:#f9f9fd;font-size:4.5px">0.00</div>
<div class="c" style="left:486.90px;top:193.88px;width:14.40px;height:9.83px;line-height:11.33px;background:#f9f9fd;font-size:4.5px">0.00</div>
<div class="c" style="left:501.00px;top:193.88px;width:14.40px;height:9.83px;line-height:11.33px;background:rgb(196,196,255);font-size:4.5px">- 1.39</div>
<div class="c" style="left:515.10px;top:193.88px;width:14.40px;height:9.83px;line-height:11.33px;background:rgb(168,168,255);font-size:4.5px">- 2.04</div>
<div class="c" style="left:416.40px;top:203.41px;width:14.40px;height:9.83px;line-height:11.33px;background:#f9f9fd;font-size:4.5px">0.00</div>
<div class="c" style="left:430.50px;top:203.41px;width:14.40px;height:9.83px;line-height:11.33px;background:#f9f9fd;font-size:4.5px">0.00</div>
<div class="c" style="left:444.60px;top:203.41px;width:14.40px;height:9.83px;line-height:11.33px;background:#f9f9fd;font-size:4.5px">0.00</div>
<div class="c" style="left:458.70px;top:203.41px;width:14.40px;height:9.83px;line-height:11.33px;background:#f9f9fd;font-size:4.5px">0.00</div>
<div class="c" style="left:472.80px;top:203.41px;width:14.40px;height:9.83px;line-height:11.33px;background:#f9f9fd;font-size:4.5px">0.00</div>
<div class="c" style="left:486.90px;top:203.41px;width:14.40px;height:9.83px;line-height:11.33px;background:#f9f9fd;font-size:4.5px">0.00</div>
<div class="c" style="left:501.00px;top:203.41px;width:14.40px;height:9.83px;line-height:11.33px;background:#f9f9fd;font-size:4.5px">0.00</div>
<div class="c" style="left:515.10px;top:203.41px;width:14.40px;height:9.83px;line-height:11.33px;background:rgb(159,159,255);font-size:4.5px">- 2.27</div>
<div class="c" style="left:416.40px;top:212.94px;width:14.40px;height:9.83px;line-height:11.33px;background:#f9f9fd;font-size:4.5px">0.00</div>
<div class="c" style="left:430.50px;top:212.94px;width:14.40px;height:9.83px;line-height:11.33px;background:#f9f9fd;font-size:4.5px">0.00</div>
<div class="c" style="left:444.60px;top:212.94px;width:14.40px;height:9.83px;line-height:11.33px;background:#f9f9fd;font-size:4.5px">0.00</div>
<div class="c" style="left:458.70px;top:212.94px;width:14.40px;height:9.83px;line-height:11.33px;background:#f9f9fd;font-size:4.5px">0.00</div>
<div class="c" style="left:472.80px;top:212.94px;width:14.40px;height:9.83px;line-height:11.33px;background:#f9f9fd;font-size:4.5px">0.00</div>
<div class="c" style="left:486.90px;top:212.94px;width:14.40px;height:9.83px;line-height:11.33px;background:#f9f9fd;font-size:4.5px">0.00</div>
<div class="c" style="left:501.00px;top:212.94px;width:14.40px;height:9.83px;line-height:11.33px;background:rgb(135,135,255);font-size:4.5px">- 2.83</div>
<div class="c" style="left:515.10px;top:212.94px;width:14.40px;height:9.83px;line-height:11.33px;background:#f9f9fd;font-size:4.5px">0.00</div>
<div class="c" style="left:416.40px;top:222.47px;width:14.40px;height:9.83px;line-height:11.33px;background:#f9f9fd;font-size:4.5px">0.00</div>
<div class="c" style="left:430.50px;top:222.47px;width:14.40px;height:9.83px;line-height:11.33px;background:#f9f9fd;font-size:4.5px">0.00</div>
<div class="c" style="left:444.60px;top:222.47px;width:14.40px;height:9.83px;line-height:11.33px;background:rgb(255,150,150);font-size:4.5px">2.48</div>
<div class="c" style="left:458.70px;top:222.47px;width:14.40px;height:9.83px;line-height:11.33px;background:#f9f9fd;font-size:4.5px">0.00</div>
<div class="c" style="left:472.80px;top:222.47px;width:14.40px;height:9.83px;line-height:11.33px;background:#f9f9fd;font-size:4.5px">0.00</div>
<div class="c" style="left:486.90px;top:222.47px;width:14.40px;height:9.83px;line-height:11.33px;background:#f9f9fd;font-size:4.5px">0.00</div>
<div class="c" style="left:501.00px;top:222.47px;width:14.40px;height:9.83px;line-height:11.33px;background:#f9f9fd;font-size:4.5px">0.00</div>
<div class="c" style="left:515.10px;top:222.47px;width:14.40px;height:9.83px;line-height:11.33px;background:#f9f9fd;font-size:4.5px">0.00</div>
<div class="c" style="left:416.40px;top:232.00px;width:14.40px;height:9.83px;line-height:11.33px;background:#f9f9fd;font-size:4.5px">0.00</div>
<div class="c" style="left:430.50px;top:232.00px;width:14.40px;height:9.83px;line-height:11.33px;background:#f9f9fd;font-size:4.5px">0.00</div>
<div class="c" style="left:444.60px;top:232.00px;width:14.40px;height:9.83px;line-height:11.33px;background:#f9f9fd;font-size:4.5px">0.00</div>
<div class="c" style="left:458.70px;top:232.00px;width:14.40px;height:9.83px;line-height:11.33px;background:#f9f9fd;font-size:4.5px">0.00</div>
<div class="c" style="left:472.80px;top:232.00px;width:14.40px;height:9.83px;line-height:11.33px;background:#f9f9fd;font-size:4.5px">0.00</div>
<div class="c" style="left:486.90px;top:232.00px;width:14.40px;height:9.83px;line-height:11.33px;background:#f9f9fd;font-size:4.5px">0.00</div>
<div class="c" style="left:501.00px;top:232.00px;width:14.40px;height:9.83px;line-height:11.33px;background:#f9f9fd;font-size:4.5px">0.00</div>
<div class="c" style="left:515.10px;top:232.00px;width:14.40px;height:9.83px;line-height:11.33px;background:rgb(255,207,207);font-size:4.5px">1.14</div>
<div class="c" style="left:416.40px;top:241.53px;width:14.40px;height:9.83px;line-height:11.33px;background:#f9f9fd;font-size:4.5px">0.00</div>
<div class="c" style="left:430.50px;top:241.53px;width:14.40px;height:9.83px;line-height:11.33px;background:rgb(255,133,133);font-size:4.5px">2.88</div>
<div class="c" style="left:444.60px;top:241.53px;width:14.40px;height:9.83px;line-height:11.33px;background:#f9f9fd;font-size:4.5px">0.00</div>
<div class="c" style="left:458.70px;top:241.53px;width:14.40px;height:9.83px;line-height:11.33px;background:#f9f9fd;font-size:4.5px">0.00</div>
<div class="c" style="left:472.80px;top:241.53px;width:14.40px;height:9.83px;line-height:11.33px;background:#f9f9fd;font-size:4.5px">0.00</div>
<div class="c" style="left:486.90px;top:241.53px;width:14.40px;height:9.83px;line-height:11.33px;background:#f9f9fd;font-size:4.5px">0.00</div>
<div class="c" style="left:501.00px;top:241.53px;width:14.40px;height:9.83px;line-height:11.33px;background:#f9f9fd;font-size:4.5px">0.00</div>
<div class="c" style="left:515.10px;top:241.53px;width:14.40px;height:9.83px;line-height:11.33px;background:#f9f9fd;font-size:4.5px">0.00</div>
<div class="c" style="left:416.40px;top:251.06px;width:14.40px;height:9.83px;line-height:11.33px;background:#f9f9fd;font-size:4.5px">0.00</div>
<div class="c" style="left:430.50px;top:251.06px;width:14.40px;height:9.83px;line-height:11.33px;background:#f9f9fd;font-size:4.5px">0.00</div>
<div class="c" style="left:444.60px;top:251.06px;width:14.40px;height:9.83px;line-height:11.33px;background:#f9f9fd;font-size:4.5px">0.00</div>
<div class="c" style="left:458.70px;top:251.06px;width:14.40px;height:9.83px;line-height:11.33px;background:rgb(255,138,138);font-size:4.5px">2.75</div>
<div class="c" style="left:472.80px;top:251.06px;width:14.40px;height:9.83px;line-height:11.33px;background:rgb(255,149,149);font-size:4.5px">2.50</div>
<div class="c" style="left:486.90px;top:251.06px;width:14.40px;height:9.83px;line-height:11.33px;background:#f9f9fd;font-size:4.5px">0.00</div>
<div class="c" style="left:501.00px;top:251.06px;width:14.40px;height:9.83px;line-height:11.33px;background:#f9f9fd;font-size:4.5px">0.00</div>
<div class="c" style="left:515.10px;top:251.06px;width:14.40px;height:9.83px;line-height:11.33px;background:#f9f9fd;font-size:4.5px">0.00</div>
<div class="c" style="left:416.40px;top:260.59px;width:14.40px;height:9.83px;line-height:11.33px;background:#f9f9fd;font-size:4.5px">0.00</div>
<div class="c" style="left:430.50px;top:260.59px;width:14.40px;height:9.83px;line-height:11.33px;background:#f9f9fd;font-size:4.5px">0.00</div>
<div class="c" style="left:444.60px;top:260.59px;width:14.40px;height:9.83px;line-height:11.33px;background:#f9f9fd;font-size:4.5px">0.00</div>
<div class="c" style="left:458.70px;top:260.59px;width:14.40px;height:9.83px;line-height:11.33px;background:rgb(255,136,136);font-size:4.5px">2.81</div>
<div class="c" style="left:472.80px;top:260.59px;width:14.40px;height:9.83px;line-height:11.33px;background:rgb(255,150,150);font-size:4.5px">2.46</div>
<div class="c" style="left:486.90px;top:260.59px;width:14.40px;height:9.83px;line-height:11.33px;background:#f9f9fd;font-size:4.5px">0.00</div>
<div class="c" style="left:501.00px;top:260.59px;width:14.40px;height:9.83px;line-height:11.33px;background:#f9f9fd;font-size:4.5px">0.00</div>
<div class="c" style="left:515.10px;top:260.59px;width:14.40px;height:9.83px;line-height:11.33px;background:#f9f9fd;font-size:4.5px">0.00</div>
<div class="c" style="left:416.40px;top:270.12px;width:14.40px;height:9.83px;line-height:11.33px;background:#f9f9fd;font-size:4.5px">0.00</div>
<div class="c" style="left:430.50px;top:270.12px;width:14.40px;height:9.83px;line-height:11.33px;background:#f9f9fd;font-size:4.5px">0.00</div>
<div class="c" style="left:444.60px;top:270.12px;width:14.40px;height:9.83px;line-height:11.33px;background:#f9f9fd;font-size:4.5px">0.00</div>
<div class="c" style="left:458.70px;top:270.12px;width:14.40px;height:9.83px;line-height:11.33px;background:rgb(255,144,144);font-size:4.5px">2.60</div>
<div class="c" style="left:472.80px;top:270.12px;width:14.40px;height:9.83px;line-height:11.33px;background:rgb(255,140,140);font-size:4.5px">2.70</div>
<div class="c" style="left:486.90px;top:270.12px;width:14.40px;height:9.83px;line-height:11.33px;background:#f9f9fd;font-size:4.5px">0.00</div>
<div class="c" style="left:501.00px;top:270.12px;width:14.40px;height:9.83px;line-height:11.33px;background:#f9f9fd;font-size:4.5px">0.00</div>
<div class="c" style="left:515.10px;top:270.12px;width:14.40px;height:9.83px;line-height:11.33px;background:rgb(255,209,209);font-size:4.5px">1.09</div>
<div class="c" style="left:416.40px;top:279.65px;width:14.40px;height:9.83px;line-height:11.33px;background:#f9f9fd;font-size:4.5px">0.00</div>
<div class="c" style="left:430.50px;top:279.65px;width:14.40px;height:9.83px;line-height:11.33px;background:#f9f9fd;font-size:4.5px">0.00</div>
<div class="c" style="left:444.60px;top:279.65px;width:14.40px;height:9.83px;line-height:11.33px;background:#f9f9fd;font-size:4.5px">0.00</div>
<div class="c" style="left:458.70px;top:279.65px;width:14.40px;height:9.83px;line-height:11.33px;background:rgb(255,149,149);font-size:4.5px">2.49</div>
<div class="c" style="left:472.80px;top:279.65px;width:14.40px;height:9.83px;line-height:11.33px;background:rgb(255,150,150);font-size:4.5px">2.47</div>
<div class="c" style="left:486.90px;top:279.65px;width:14.40px;height:9.83px;line-height:11.33px;background:#f9f9fd;font-size:4.5px">0.00</div>
<div class="c" style="left:501.00px;top:279.65px;width:14.40px;height:9.83px;line-height:11.33px;background:rgb(255,112,112);font-size:4.5px">3.37</div>
<div class="c" style="left:515.10px;top:279.65px;width:14.40px;height:9.83px;line-height:11.33px;background:rgb(255,207,207);font-size:4.5px">1.12</div>
<div class="c" style="left:416.40px;top:289.18px;width:14.40px;height:9.83px;line-height:11.33px;background:#f9f9fd;font-size:4.5px">0.00</div>
<div class="c" style="left:430.50px;top:289.18px;width:14.40px;height:9.83px;line-height:11.33px;background:#f9f9fd;font-size:4.5px">0.00</div>
<div class="c" style="left:444.60px;top:289.18px;width:14.40px;height:9.83px;line-height:11.33px;background:#f9f9fd;font-size:4.5px">0.00</div>
<div class="c" style="left:458.70px;top:289.18px;width:14.40px;height:9.83px;line-height:11.33px;background:#f9f9fd;font-size:4.5px">0.00</div>
<div class="c" style="left:472.80px;top:289.18px;width:14.40px;height:9.83px;line-height:11.33px;background:rgb(255,145,145);font-size:4.5px">2.58</div>
<div class="c" style="left:486.90px;top:289.18px;width:14.40px;height:9.83px;line-height:11.33px;background:rgb(255,139,139);font-size:4.5px">2.72</div>
<div class="c" style="left:501.00px;top:289.18px;width:14.40px;height:9.83px;line-height:11.33px;background:rgb(255,136,136);font-size:4.5px">2.80</div>
<div class="c" style="left:515.10px;top:289.18px;width:14.40px;height:9.83px;line-height:11.33px;background:#f9f9fd;font-size:4.5px">0.00</div>
<div class="c" style="left:416.40px;top:298.71px;width:14.40px;height:9.83px;line-height:11.33px;background:#f9f9fd;font-size:4.5px">0.00</div>
<div class="c" style="left:430.50px;top:298.71px;width:14.40px;height:9.83px;line-height:11.33px;background:#f9f9fd;font-size:4.5px">0.00</div>
<div class="c" style="left:444.60px;top:298.71px;width:14.40px;height:9.83px;line-height:11.33px;background:#f9f9fd;font-size:4.5px">0.00</div>
<div class="c" style="left:458.70px;top:298.71px;width:14.40px;height:9.83px;line-height:11.33px;background:rgb(255,147,147);font-size:4.5px">2.53</div>
<div class="c" style="left:472.80px;top:298.71px;width:14.40px;height:9.83px;line-height:11.33px;background:rgb(255,148,148);font-size:4.5px">2.51</div>
<div class="c" style="left:486.90px;top:298.71px;width:14.40px;height:9.83px;line-height:11.33px;background:rgb(255,121,121);font-size:4.5px">3.16</div>
<div class="c" style="left:501.00px;top:298.71px;width:14.40px;height:9.83px;line-height:11.33px;background:rgb(255,118,118);font-size:4.5px">3.23</div>
<div class="c" style="left:515.10px;top:298.71px;width:14.40px;height:9.83px;line-height:11.33px;background:#f9f9fd;font-size:4.5px">0.00</div>
<div class="c" style="left:416.40px;top:308.24px;width:14.40px;height:9.83px;line-height:11.33px;background:rgb(255,135,135);font-size:4.5px">2.82</div>
<div class="c" style="left:430.50px;top:308.24px;width:14.40px;height:9.83px;line-height:11.33px;background:#f9f9fd;font-size:4.5px">0.00</div>
<div class="c" style="left:444.60px;top:308.24px;width:14.40px;height:9.83px;line-height:11.33px;background:#f9f9fd;font-size:4.5px">0.00</div>
<div class="c" style="left:458.70px;top:308.24px;width:14.40px;height:9.83px;line-height:11.33px;background:rgb(255,144,144);font-size:4.5px">2.62</div>
<div class="c" style="left:472.80px;top:308.24px;width:14.40px;height:9.83px;line-height:11.33px;background:rgb(255,128,128);font-size:4.5px">2.98</div>
<div class="c" style="left:486.90px;top:308.24px;width:14.40px;height:9.83px;line-height:11.33px;background:rgb(255,117,117);font-size:4.5px">3.24</div>
<div class="c" style="left:501.00px;top:308.24px;width:14.40px;height:9.83px;line-height:11.33px;background:rgb(255,149,149);font-size:4.5px">2.50</div>
<div class="c" style="left:515.10px;top:308.24px;width:14.40px;height:9.83px;line-height:11.33px;background:#f9f9fd;font-size:4.5px">0.00</div>
<div class="c" style="left:416.40px;top:317.77px;width:14.40px;height:9.83px;line-height:11.33px;background:rgb(255,120,120);font-size:4.5px">3.17</div>
<div class="c" style="left:430.50px;top:317.77px;width:14.40px;height:9.83px;line-height:11.33px;background:rgb(255,124,124);font-size:4.5px">3.09</div>
<div class="c" style="left:444.60px;top:317.77px;width:14.40px;height:9.83px;line-height:11.33px;background:#f9f9fd;font-size:4.5px">0.00</div>
<div class="c" style="left:458.70px;top:317.77px;width:14.40px;height:9.83px;line-height:11.33px;background:#f9f9fd;font-size:4.5px">0.00</div>
<div class="c" style="left:472.80px;top:317.77px;width:14.40px;height:9.83px;line-height:11.33px;background:rgb(255,142,142);font-size:4.5px">2.67</div>
<div class="c" style="left:486.90px;top:317.77px;width:14.40px;height:9.83px;line-height:11.33px;background:#f9f9fd;font-size:4.5px">0.00</div>
<div class="c" style="left:501.00px;top:317.77px;width:14.40px;height:9.83px;line-height:11.33px;background:rgb(255,133,133);font-size:4.5px">2.87</div>
<div class="c" style="left:515.10px;top:317.77px;width:14.40px;height:9.83px;line-height:11.33px;background:#f9f9fd;font-size:4.5px">0.00</div>
<div class="c" style="left:416.40px;top:327.30px;width:14.40px;height:9.83px;line-height:11.33px;background:rgb(255,115,115);font-size:4.5px">3.29</div>
<div class="c" style="left:430.50px;top:327.30px;width:14.40px;height:9.83px;line-height:11.33px;background:rgb(255,139,139);font-size:4.5px">2.73</div>
<div class="c" style="left:444.60px;top:327.30px;width:14.40px;height:9.83px;line-height:11.33px;background:rgb(255,148,148);font-size:4.5px">2.51</div>
<div class="c" style="left:458.70px;top:327.30px;width:14.40px;height:9.83px;line-height:11.33px;background:#f9f9fd;font-size:4.5px">0.00</div>
<div class="c" style="left:472.80px;top:327.30px;width:14.40px;height:9.83px;line-height:11.33px;background:rgb(255,147,147);font-size:4.5px">2.55</div>
<div class="c" style="left:486.90px;top:327.30px;width:14.40px;height:9.83px;line-height:11.33px;background:#f9f9fd;font-size:4.5px">0.00</div>
<div class="c" style="left:501.00px;top:327.30px;width:14.40px;height:9.83px;line-height:11.33px;background:rgb(255,142,142);font-size:4.5px">2.66</div>
<div class="c" style="left:515.10px;top:327.30px;width:14.40px;height:9.83px;line-height:11.33px;background:#f9f9fd;font-size:4.5px">0.00</div>
<div class="c" style="left:416.40px;top:336.83px;width:14.40px;height:9.83px;line-height:11.33px;background:rgb(255,115,115);font-size:4.5px">3.30</div>
<div class="c" style="left:430.50px;top:336.83px;width:14.40px;height:9.83px;line-height:11.33px;background:rgb(255,110,110);font-size:4.5px">3.40</div>
<div class="c" style="left:444.60px;top:336.83px;width:14.40px;height:9.83px;line-height:11.33px;background:#f9f9fd;font-size:4.5px">0.00</div>
<div class="c" style="left:458.70px;top:336.83px;width:14.40px;height:9.83px;line-height:11.33px;background:#f9f9fd;font-size:4.5px">0.00</div>
<div class="c" style="left:472.80px;top:336.83px;width:14.40px;height:9.83px;line-height:11.33px;background:#f9f9fd;font-size:4.5px">0.00</div>
<div class="c" style="left:486.90px;top:336.83px;width:14.40px;height:9.83px;line-height:11.33px;background:#f9f9fd;font-size:4.5px">0.00</div>
<div class="c" style="left:501.00px;top:336.83px;width:14.40px;height:9.83px;line-height:11.33px;background:rgb(255,123,123);font-size:4.5px">3.10</div>
<div class="c" style="left:515.10px;top:336.83px;width:14.40px;height:9.83px;line-height:11.33px;background:rgb(196,196,255);font-size:4.5px">- 1.38</div>
<div class="c" style="left:416.40px;top:346.36px;width:14.40px;height:9.83px;line-height:11.33px;background:rgb(255,117,117);font-size:4.5px">3.24</div>
<div class="c" style="left:430.50px;top:346.36px;width:14.40px;height:9.83px;line-height:11.33px;background:rgb(255,121,121);font-size:4.5px">3.15</div>
<div class="c" style="left:444.60px;top:346.36px;width:14.40px;height:9.83px;line-height:11.33px;background:#f9f9fd;font-size:4.5px">0.00</div>
<div class="c" style="left:458.70px;top:346.36px;width:14.40px;height:9.83px;line-height:11.33px;background:rgb(255,150,150);font-size:4.5px">2.48</div>
<div class="c" style="left:472.80px;top:346.36px;width:14.40px;height:9.83px;line-height:11.33px;background:#f9f9fd;font-size:4.5px">0.00</div>
<div class="c" style="left:486.90px;top:346.36px;width:14.40px;height:9.83px;line-height:11.33px;background:#f9f9fd;font-size:4.5px">0.00</div>
<div class="c" style="left:501.00px;top:346.36px;width:14.40px;height:9.83px;line-height:11.33px;background:#f9f9fd;font-size:4.5px">0.00</div>
<div class="c" style="left:515.10px;top:346.36px;width:14.40px;height:9.83px;line-height:11.33px;background:#f9f9fd;font-size:4.5px">0.00</div>
<div class="c" style="left:416.40px;top:355.89px;width:14.40px;height:9.83px;line-height:11.33px;background:#f9f9fd;font-size:4.5px">0.00</div>
<div class="c" style="left:430.50px;top:355.89px;width:14.40px;height:9.83px;line-height:11.33px;background:#f9f9fd;font-size:4.5px">0.00</div>
<div class="c" style="left:444.60px;top:355.89px;width:14.40px;height:9.83px;line-height:11.33px;background:rgb(142,142,255);font-size:4.5px">- 2.66</div>
<div class="c" style="left:458.70px;top:355.89px;width:14.40px;height:9.83px;line-height:11.33px;background:rgb(142,142,255);font-size:4.5px">- 2.65</div>
<div class="c" style="left:472.80px;top:355.89px;width:14.40px;height:9.83px;line-height:11.33px;background:rgb(142,142,255);font-size:4.5px">- 2.65</div>
<div class="c" style="left:486.90px;top:355.89px;width:14.40px;height:9.83px;line-height:11.33px;background:#f9f9fd;font-size:4.5px">0.00</div>
<div class="c" style="left:501.00px;top:355.89px;width:14.40px;height:9.83px;line-height:11.33px;background:#f9f9fd;font-size:4.5px">0.00</div>
<div class="c" style="left:515.10px;top:355.89px;width:14.40px;height:9.83px;line-height:11.33px;background:rgb(78,78,255);font-size:4.5px">- 4.17</div>
<div class="c" style="left:416.40px;top:365.42px;width:14.40px;height:9.83px;line-height:11.33px;background:#f9f9fd;font-size:4.5px">0.00</div>
<div class="c" style="left:430.50px;top:365.42px;width:14.40px;height:9.83px;line-height:11.33px;background:#f9f9fd;font-size:4.5px">0.00</div>
<div class="c" style="left:444.60px;top:365.42px;width:14.40px;height:9.83px;line-height:11.33px;background:rgb(151,151,255);font-size:4.5px">- 2.45</div>
<div class="c" style="left:458.70px;top:365.42px;width:14.40px;height:9.83px;line-height:11.33px;background:rgb(151,151,255);font-size:4.5px">- 2.45</div>
<div class="c" style="left:472.80px;top:365.42px;width:14.40px;height:9.83px;line-height:11.33px;background:rgb(151,151,255);font-size:4.5px">- 2.45</div>
<div class="c" style="left:486.90px;top:365.42px;width:14.40px;height:9.83px;line-height:11.33px;background:#f9f9fd;font-size:4.5px">0.00</div>
<div class="c" style="left:501.00px;top:365.42px;width:14.40px;height:9.83px;line-height:11.33px;background:#f9f9fd;font-size:4.5px">0.00</div>
<div class="c" style="left:515.10px;top:365.42px;width:14.40px;height:9.83px;line-height:11.33px;background:rgb(89,89,255);font-size:4.5px">- 3.90</div>
<div class="c" style="left:416.40px;top:374.95px;width:14.40px;height:9.83px;line-height:11.33px;background:#f9f9fd;font-size:4.5px">0.00</div>
<div class="c" style="left:430.50px;top:374.95px;width:14.40px;height:9.83px;line-height:11.33px;background:#f9f9fd;font-size:4.5px">0.00</div>
<div class="c" style="left:444.60px;top:374.95px;width:14.40px;height:9.83px;line-height:11.33px;background:#f9f9fd;font-size:4.5px">0.00</div>
<div class="c" style="left:458.70px;top:374.95px;width:14.40px;height:9.83px;line-height:11.33px;background:#f9f9fd;font-size:4.5px">0.00</div>
<div class="c" style="left:472.80px;top:374.95px;width:14.40px;height:9.83px;line-height:11.33px;background:#f9f9fd;font-size:4.5px">0.00</div>
<div class="c" style="left:486.90px;top:374.95px;width:14.40px;height:9.83px;line-height:11.33px;background:#f9f9fd;font-size:4.5px">0.00</div>
<div class="c" style="left:501.00px;top:374.95px;width:14.40px;height:9.83px;line-height:11.33px;background:#f9f9fd;font-size:4.5px">0.00</div>
<div class="c" style="left:515.10px;top:374.95px;width:14.40px;height:9.83px;line-height:11.33px;background:rgb(15,15,255);font-size:4.5px">- 5.64</div>
<div class="c" style="left:416.40px;top:384.48px;width:14.40px;height:9.83px;line-height:11.33px;background:#f9f9fd;font-size:4.5px">0.00</div>
<div class="c" style="left:430.50px;top:384.48px;width:14.40px;height:9.83px;line-height:11.33px;background:#f9f9fd;font-size:4.5px">0.00</div>
<div class="c" style="left:444.60px;top:384.48px;width:14.40px;height:9.83px;line-height:11.33px;background:#f9f9fd;font-size:4.5px">0.00</div>
<div class="c" style="left:458.70px;top:384.48px;width:14.40px;height:9.83px;line-height:11.33px;background:#f9f9fd;font-size:4.5px">0.00</div>
<div class="c" style="left:472.80px;top:384.48px;width:14.40px;height:9.83px;line-height:11.33px;background:#f9f9fd;font-size:4.5px">0.00</div>
<div class="c" style="left:486.90px;top:384.48px;width:14.40px;height:9.83px;line-height:11.33px;background:#f9f9fd;font-size:4.5px">0.00</div>
<div class="c" style="left:501.00px;top:384.48px;width:14.40px;height:9.83px;line-height:11.33px;background:#f9f9fd;font-size:4.5px">0.00</div>
<div class="c" style="left:515.10px;top:384.48px;width:14.40px;height:9.83px;line-height:11.33px;background:rgb(0,0,255);font-size:4.5px">- 6.17</div>
<div class="c" style="left:416.40px;top:394.01px;width:14.40px;height:9.83px;line-height:11.33px;background:rgb(102,102,255);font-size:4.5px">- 3.61</div>
<div class="c" style="left:430.50px;top:394.01px;width:14.40px;height:9.83px;line-height:11.33px;background:rgb(147,147,255);font-size:4.5px">- 2.55</div>
<div class="c" style="left:444.60px;top:394.01px;width:14.40px;height:9.83px;line-height:11.33px;background:#f9f9fd;font-size:4.5px">0.00</div>
<div class="c" style="left:458.70px;top:394.01px;width:14.40px;height:9.83px;line-height:11.33px;background:rgb(147,147,255);font-size:4.5px">- 2.55</div>
<div class="c" style="left:472.80px;top:394.01px;width:14.40px;height:9.83px;line-height:11.33px;background:rgb(153,153,255);font-size:4.5px">- 2.39</div>
<div class="c" style="left:486.90px;top:394.01px;width:14.40px;height:9.83px;line-height:11.33px;background:rgb(91,91,255);font-size:4.5px">- 3.85</div>
<div class="c" style="left:501.00px;top:394.01px;width:14.40px;height:9.83px;line-height:11.33px;background:rgb(85,85,255);font-size:4.5px">- 4.01</div>
<div class="c" style="left:515.10px;top:394.01px;width:14.40px;height:9.83px;line-height:11.33px;background:rgb(116,116,255);font-size:4.5px">- 3.27</div>
<div class="t" style="left:531.00px;top:40.80px;height:9.53px;line-height:11.93px;font-size:7.5px">4- Pyridoxate</div>
<div class="t" style="left:531.00px;top:50.33px;height:9.53px;line-height:11.93px;font-size:7.5px">Carnitine</div>
<div class="t" style="left:531.00px;top:59.86px;height:9.53px;line-height:11.93px;font-size:7.5px">Methylguanidine</div>
<div class="t" style="left:531.00px;top:69.39px;height:9.53px;line-height:11.93px;font-size:7.5px">Niacinamide</div>
<div class="t" style="left:531.00px;top:78.92px;height:9.53px;line-height:11.93px;font-size:7.5px">Arabinose</div>
<div class="t" style="left:531.00px;top:88.45px;height:9.53px;line-height:11.93px;font-size:7.5px">Lactate</div>
<div class="t" style="left:531.00px;top:97.98px;height:9.53px;line-height:11.93px;font-size:7.5px">2- Hydroxyvalerate</div>
<div class="t" style="left:531.00px;top:107.51px;height:9.53px;line-height:11.93px;font-size:7.5px">Saccharopine</div>
<div class="t" style="left:531.00px;top:117.04px;height:9.53px;line-height:11.93px;font-size:7.5px">N6- Acetyllysine</div>
<div class="t" style="left:531.00px;top:126.57px;height:9.53px;line-height:11.93px;font-size:7.5px">3- Hydroxy- 3- methylglutarate</div>
<div class="t" style="left:531.00px;top:136.10px;height:9.53px;line-height:11.93px;font-size:7.5px">Trimethylamine</div>
<div class="t" style="left:531.00px;top:145.63px;height:9.53px;line-height:11.93px;font-size:7.5px">Glycolate</div>
<div class="t" style="left:531.00px;top:155.16px;height:9.53px;line-height:11.93px;font-size:7.5px">Guanidinosuccinate</div>
<div class="t" style="left:531.00px;top:164.69px;height:9.53px;line-height:11.93px;font-size:7.5px">3- Hydroxyisovalerate</div>
<div class="t" style="left:531.00px;top:174.22px;height:9.53px;line-height:11.93px;font-size:7.5px">Methylamine</div>
<div class="t" style="left:531.00px;top:183.75px;height:9.53px;line-height:11.93px;font-size:7.5px">Glucuronate</div>
<div class="t" style="left:531.00px;top:193.28px;height:9.53px;line-height:11.93px;font-size:7.5px">Alanine</div>
<div class="t" style="left:531.00px;top:202.81px;height:9.53px;line-height:11.93px;font-size:7.5px">Valine</div>
<div class="t" style="left:531.00px;top:212.34px;height:9.53px;line-height:11.93px;font-size:7.5px">Hypoxanthine</div>
<div class="t" style="left:531.00px;top:221.87px;height:9.53px;line-height:11.93px;font-size:7.5px">2- Oxoisocaproate</div>
<div class="t" style="left:531.00px;top:231.40px;height:9.53px;line-height:11.93px;font-size:7.5px">Nicotinurate</div>
<div class="t" style="left:531.00px;top:240.93px;height:9.53px;line-height:11.93px;font-size:7.5px">Xanthine</div>
<div class="t" style="left:531.00px;top:250.46px;height:9.53px;line-height:11.93px;font-size:7.5px">Creatinine</div>
<div class="t" style="left:531.00px;top:259.99px;height:9.53px;line-height:11.93px;font-size:7.5px">Glycine</div>
<div class="t" style="left:531.00px;top:269.52px;height:9.53px;line-height:11.93px;font-size:7.5px">Tartrate</div>
<div class="t" style="left:531.00px;top:279.05px;height:9.53px;line-height:11.93px;font-size:7.5px">Nicotinamide N- oxide</div>
<div class="t" style="left:531.00px;top:288.58px;height:9.53px;line-height:11.93px;font-size:7.5px">1,7- Dimethylxanthine</div>
<div class="t" style="left:531.00px;top:298.11px;height:9.53px;line-height:11.93px;font-size:7.5px">Guanidoacetate</div>
<div class="t" style="left:531.00px;top:307.64px;height:9.53px;line-height:11.93px;font-size:7.5px">Cadaverine</div>
<div class="t" style="left:531.00px;top:317.17px;height:9.53px;line-height:11.93px;font-size:7.5px">2- Methylglutarate</div>
<div class="t" style="left:531.00px;top:326.70px;height:9.53px;line-height:11.93px;font-size:7.5px">trans- Aconitate</div>
<div class="t" style="left:531.00px;top:336.23px;height:9.53px;line-height:11.93px;font-size:7.5px">1,3- Dimethylurate</div>
<div class="t" style="left:531.00px;top:345.76px;height:9.53px;line-height:11.93px;font-size:7.5px">Oxypurinol</div>
<div class="t" style="left:531.00px;top:355.29px;height:9.53px;line-height:11.93px;font-size:7.5px">2- Hydroxyisobutyrate</div>
<div class="t" style="left:531.00px;top:364.82px;height:9.53px;line-height:11.93px;font-size:7.5px">Methanol</div>
<div class="t" style="left:531.00px;top:374.35px;height:9.53px;line-height:11.93px;font-size:7.5px">Isobutyrate</div>
<div class="t" style="left:531.00px;top:383.88px;height:9.53px;line-height:11.93px;font-size:7.5px">Trimethylamine N- oxide</div>
<div class="t" style="left:531.00px;top:393.41px;height:9.53px;line-height:11.93px;font-size:7.5px">Betaine</div>
<div class="t gb" style="left:531.00px;top:32.00px;line-height:10px;font-size:5.7px">Group</div>
<div class="v" style="left:418.45px;top:405.00px;width:10px;line-height:10px;font-size:7.4px">MG1655_IMI/CT</div>
<div class="v" style="left:432.55px;top:405.00px;width:10px;line-height:10px;font-size:7.4px">MG1655_CPFX/CT</div>
<div class="v" style="left:446.65px;top:405.00px;width:10px;line-height:10px;font-size:7.4px">NCTC418_CTX/CT</div>
<div class="v" style="left:460.75px;top:405.00px;width:10px;line-height:10px;font-size:7.4px">NCTC418_IMI/CT</div>
<div class="v" style="left:474.85px;top:405.00px;width:10px;line-height:10px;font-size:7.4px">NCTC418_KAN/CT</div>
<div class="v" style="left:488.95px;top:405.00px;width:10px;line-height:10px;font-size:7.4px">MG1655_CTX/CT</div>
<div class="v" style="left:503.05px;top:405.00px;width:10px;line-height:10px;font-size:7.4px">MG1655_KAN/CT</div>
<div class="v" style="left:517.15px;top:405.00px;width:10px;line-height:10px;font-size:7.4px">NCTC418_CPFX/CT</div>
<div class="b" style="left:633.30px;top:33.80px;width:4.90px;height:69.90px;background:linear-gradient(to bottom,#ff0000,#ffffff,#0000ff)"></div>
<div class="t" style="left:640.10px;top:28.80px;line-height:10px;font-size:5.0px">6</div>
<div class="t" style="left:640.10px;top:34.62px;line-height:10px;font-size:5.0px">5</div>
<div class="t" style="left:640.10px;top:40.45px;line-height:10px;font-size:5.0px">4</div>
<div class="t" style="left:640.10px;top:46.27px;line-height:10px;font-size:5.0px">3</div>
<div class="t" style="left:640.10px;top:52.10px;line-height:10px;font-size:5.0px">2</div>
<div class="t" style="left:640.10px;top:57.92px;line-height:10px;font-size:5.0px">1</div>
<div class="t" style="left:640.10px;top:63.75px;line-height:10px;font-size:5.0px">0</div>
<div class="t" style="left:640.10px;top:69.58px;line-height:10px;font-size:5.0px">- 1</div>
<div class="t" style="left:640.10px;top:75.40px;line-height:10px;font-size:5.0px">- 2</div>
<div class="t" style="left:640.10px;top:81.22px;line-height:10px;font-size:5.0px">- 3</div>
<div class="t" style="left:640.10px;top:87.05px;line-height:10px;font-size:5.0px">- 4</div>
<div class="t" style="left:640.10px;top:92.88px;line-height:10px;font-size:5.0px">- 5</div>
<div class="t" style="left:640.10px;top:98.70px;line-height:10px;font-size:5.0px">- 6</div>
<div class="t gb" style="left:649.90px;top:31.20px;line-height:10px;font-size:5.5px">Group</div>
<div class="b" style="left:649.90px;top:39.70px;width:8.10px;height:8.30px;background:#1ef7f7"></div>
<div class="b" style="left:649.90px;top:48.00px;width:8.10px;height:7.80px;background:#ff8383"></div>
<div class="t" style="left:659.10px;top:39.00px;line-height:10px;font-size:5.6px">MG1655</div>
<div class="t" style="left:659.10px;top:47.00px;line-height:10px;font-size:5.6px">NCTC418</div>
<div class="t" style="left:364.60px;top:-2.40px;line-height:24px;letter-spacing:0.7px;-webkit-text-stroke:0;font-size:21.5px">b)</div>
<div class="b" style="left:72.70px;top:554.40px;width:16.10px;height:6.40px;background:#ff8383"></div>
<div class="b" style="left:88.50px;top:554.40px;width:16.10px;height:6.40px;background:#ff8383"></div>
<div class="b" style="left:104.30px;top:554.40px;width:16.10px;height:6.40px;background:#ff8383"></div>
<div class="b" style="left:120.10px;top:554.40px;width:16.10px;height:6.40px;background:#1ef7f7"></div>
<div class="c" style="left:72.70px;top:562.80px;width:16.10px;height:9.36px;line-height:10.86px;background:#f9f9fd;font-size:5.3px">0.00</div>
<div class="c" style="left:88.50px;top:562.80px;width:16.10px;height:9.36px;line-height:10.86px;background:#f9f9fd;font-size:5.3px">0.00</div>
<div class="c" style="left:104.30px;top:562.80px;width:16.10px;height:9.36px;line-height:10.86px;background:#f9f9fd;font-size:5.3px">0.00</div>
<div class="c" style="left:120.10px;top:562.80px;width:16.10px;height:9.36px;line-height:10.86px;background:rgb(29,29,255);font-size:5.3px">- 3.55</div>
<div class="c" style="left:72.70px;top:571.86px;width:16.10px;height:9.36px;line-height:10.86px;background:#f9f9fd;font-size:5.3px">0.00</div>
<div class="c" style="left:88.50px;top:571.86px;width:16.10px;height:9.36px;line-height:10.86px;background:#f9f9fd;font-size:5.3px">0.00</div>
<div class="c" style="left:104.30px;top:571.86px;width:16.10px;height:9.36px;line-height:10.86px;background:#f9f9fd;font-size:5.3px">0.00</div>
<div class="c" style="left:120.10px;top:571.86px;width:16.10px;height:9.36px;line-height:10.86px;background:rgb(38,38,255);font-size:5.3px">- 3.40</div>
<div class="c" style="left:72.70px;top:580.92px;width:16.10px;height:9.36px;line-height:10.86px;background:#f9f9fd;font-size:5.3px">0.00</div>
<div class="c" style="left:88.50px;top:580.92px;width:16.10px;height:9.36px;line-height:10.86px;background:#f9f9fd;font-size:5.3px">0.00</div>
<div class="c" style="left:104.30px;top:580.92px;width:16.10px;height:9.36px;line-height:10.86px;background:#f9f9fd;font-size:5.3px">0.00</div>
<div class="c" style="left:120.10px;top:580.92px;width:16.10px;height:9.36px;line-height:10.86px;background:rgb(65,65,255);font-size:5.3px">- 2.98</div>
<div class="c" style="left:72.70px;top:589.98px;width:16.10px;height:9.36px;line-height:10.86px;background:#f9f9fd;font-size:5.3px">0.00</div>
<div class="c" style="left:88.50px;top:589.98px;width:16.10px;height:9.36px;line-height:10.86px;background:#f9f9fd;font-size:5.3px">0.00</div>
<div class="c" style="left:104.30px;top:589.98px;width:16.10px;height:9.36px;line-height:10.86px;background:#f9f9fd;font-size:5.3px">0.00</div>
<div class="c" style="left:120.10px;top:589.98px;width:16.10px;height:9.36px;line-height:10.86px;background:rgb(160,160,255);font-size:5.3px">- 1.49</div>
<div class="c" style="left:72.70px;top:599.04px;width:16.10px;height:9.36px;line-height:10.86px;background:#f9f9fd;font-size:5.3px">0.00</div>
<div class="c" style="left:88.50px;top:599.04px;width:16.10px;height:9.36px;line-height:10.86px;background:#f9f9fd;font-size:5.3px">0.00</div>
<div class="c" style="left:104.30px;top:599.04px;width:16.10px;height:9.36px;line-height:10.86px;background:#f9f9fd;font-size:5.3px">0.00</div>
<div class="c" style="left:120.10px;top:599.04px;width:16.10px;height:9.36px;line-height:10.86px;background:rgb(133,133,255);font-size:5.3px">- 1.92</div>
<div class="c" style="left:72.70px;top:608.10px;width:16.10px;height:9.36px;line-height:10.86px;background:#f9f9fd;font-size:5.3px">0.00</div>
<div class="c" style="left:88.50px;top:608.10px;width:16.10px;height:9.36px;line-height:10.86px;background:#f9f9fd;font-size:5.3px">0.00</div>
<div class="c" style="left:104.30px;top:608.10px;width:16.10px;height:9.36px;line-height:10.86px;background:rgb(182,182,255);font-size:5.3px">- 1.14</div>
<div class="c" style="left:120.10px;top:608.10px;width:16.10px;height:9.36px;line-height:10.86px;background:rgb(163,163,255);font-size:5.3px">- 1.45</div>
<div class="c" style="left:72.70px;top:617.16px;width:16.10px;height:9.36px;line-height:10.86px;background:rgb(108,108,255);font-size:5.3px">- 2.31</div>
<div class="c" style="left:88.50px;top:617.16px;width:16.10px;height:9.36px;line-height:10.86px;background:rgb(82,82,255);font-size:5.3px">- 2.71</div>
<div class="c" style="left:104.30px;top:617.16px;width:16.10px;height:9.36px;line-height:10.86px;background:rgb(98,98,255);font-size:5.3px">- 2.47</div>
<div class="c" style="left:120.10px;top:617.16px;width:16.10px;height:9.36px;line-height:10.86px;background:rgb(4,4,255);font-size:5.3px">- 3.93</div>
<div class="c" style="left:72.70px;top:626.22px;width:16.10px;height:9.36px;line-height:10.86px;background:#f9f9fd;font-size:5.3px">0.00</div>
<div class="c" style="left:88.50px;top:626.22px;width:16.10px;height:9.36px;line-height:10.86px;background:#f9f9fd;font-size:5.3px">0.00</div>
<div class="c" style="left:104.30px;top:626.22px;width:16.10px;height:9.36px;line-height:10.86px;background:#f9f9fd;font-size:5.3px">0.00</div>
<div class="c" style="left:120.10px;top:626.22px;width:16.10px;height:9.36px;line-height:10.86px;background:rgb(255,92,92);font-size:5.3px">2.55</div>
<div class="c" style="left:72.70px;top:635.28px;width:16.10px;height:9.36px;line-height:10.86px;background:#f9f9fd;font-size:5.3px">0.00</div>
<div class="c" style="left:88.50px;top:635.28px;width:16.10px;height:9.36px;line-height:10.86px;background:#f9f9fd;font-size:5.3px">0.00</div>
<div class="c" style="left:104.30px;top:635.28px;width:16.10px;height:9.36px;line-height:10.86px;background:#f9f9fd;font-size:5.3px">0.00</div>
<div class="c" style="left:120.10px;top:635.28px;width:16.10px;height:9.36px;line-height:10.86px;background:rgb(255,94,94);font-size:5.3px">2.52</div>
<div class="c" style="left:72.70px;top:644.34px;width:16.10px;height:9.36px;line-height:10.86px;background:#f9f9fd;font-size:5.3px">0.00</div>
<div class="c" style="left:88.50px;top:644.34px;width:16.10px;height:9.36px;line-height:10.86px;background:#f9f9fd;font-size:5.3px">0.00</div>
<div class="c" style="left:104.30px;top:644.34px;width:16.10px;height:9.36px;line-height:10.86px;background:#f9f9fd;font-size:5.3px">0.00</div>
<div class="c" style="left:120.10px;top:644.34px;width:16.10px;height:9.36px;line-height:10.86px;background:rgb(255,96,96);font-size:5.3px">2.50</div>
<div class="c" style="left:72.70px;top:653.40px;width:16.10px;height:9.36px;line-height:10.86px;background:#f9f9fd;font-size:5.3px">0.00</div>
<div class="c" style="left:88.50px;top:653.40px;width:16.10px;height:9.36px;line-height:10.86px;background:#f9f9fd;font-size:5.3px">0.00</div>
<div class="c" style="left:104.30px;top:653.40px;width:16.10px;height:9.36px;line-height:10.86px;background:#f9f9fd;font-size:5.3px">0.00</div>
<div class="c" style="left:120.10px;top:653.40px;width:16.10px;height:9.36px;line-height:10.86px;background:rgb(255,98,98);font-size:5.3px">2.47</div>
<div class="c" style="left:72.70px;top:662.46px;width:16.10px;height:9.36px;line-height:10.86px;background:#f9f9fd;font-size:5.3px">0.00</div>
<div class="c" style="left:88.50px;top:662.46px;width:16.10px;height:9.36px;line-height:10.86px;background:#f9f9fd;font-size:5.3px">0.00</div>
<div class="c" style="left:104.30px;top:662.46px;width:16.10px;height:9.36px;line-height:10.86px;background:#f9f9fd;font-size:5.3px">0.00</div>
<div class="c" style="left:120.10px;top:662.46px;width:16.10px;height:9.36px;line-height:10.86px;background:rgb(255,42,42);font-size:5.3px">3.34</div>
<div class="c" style="left:72.70px;top:671.52px;width:16.10px;height:9.36px;line-height:10.86px;background:#f9f9fd;font-size:5.3px">0.00</div>
<div class="c" style="left:88.50px;top:671.52px;width:16.10px;height:9.36px;line-height:10.86px;background:#f9f9fd;font-size:5.3px">0.00</div>
<div class="c" style="left:104.30px;top:671.52px;width:16.10px;height:9.36px;line-height:10.86px;background:#f9f9fd;font-size:5.3px">0.00</div>
<div class="c" style="left:120.10px;top:671.52px;width:16.10px;height:9.36px;line-height:10.86px;background:rgb(255,68,68);font-size:5.3px">2.93</div>
<div class="c" style="left:72.70px;top:680.58px;width:16.10px;height:9.36px;line-height:10.86px;background:#f9f9fd;font-size:5.3px">0.00</div>
<div class="c" style="left:88.50px;top:680.58px;width:16.10px;height:9.36px;line-height:10.86px;background:#f9f9fd;font-size:5.3px">0.00</div>
<div class="c" style="left:104.30px;top:680.58px;width:16.10px;height:9.36px;line-height:10.86px;background:#f9f9fd;font-size:5.3px">0.00</div>
<div class="c" style="left:120.10px;top:680.58px;width:16.10px;height:9.36px;line-height:10.86px;background:rgb(255,40,40);font-size:5.3px">3.38</div>
<div class="c" style="left:72.70px;top:689.64px;width:16.10px;height:9.36px;line-height:10.86px;background:rgb(255,92,92);font-size:5.3px">2.55</div>
<div class="c" style="left:88.50px;top:689.64px;width:16.10px;height:9.36px;line-height:10.86px;background:rgb(255,104,104);font-size:5.3px">2.37</div>
<div class="c" style="left:104.30px;top:689.64px;width:16.10px;height:9.36px;line-height:10.86px;background:#f9f9fd;font-size:5.3px">0.00</div>
<div class="c" style="left:120.10px;top:689.64px;width:16.10px;height:9.36px;line-height:10.86px;background:rgb(255,64,64);font-size:5.3px">2.99</div>
<div class="c" style="left:72.70px;top:698.70px;width:16.10px;height:9.36px;line-height:10.86px;background:#f9f9fd;font-size:5.3px">0.00</div>
<div class="c" style="left:88.50px;top:698.70px;width:16.10px;height:9.36px;line-height:10.86px;background:#f9f9fd;font-size:5.3px">0.00</div>
<div class="c" style="left:104.30px;top:698.70px;width:16.10px;height:9.36px;line-height:10.86px;background:rgb(255,70,70);font-size:5.3px">2.90</div>
<div class="c" style="left:120.10px;top:698.70px;width:16.10px;height:9.36px;line-height:10.86px;background:#f9f9fd;font-size:5.3px">0.00</div>
<div class="c" style="left:72.70px;top:707.76px;width:16.10px;height:9.36px;line-height:10.86px;background:#f9f9fd;font-size:5.3px">0.00</div>
<div class="c" style="left:88.50px;top:707.76px;width:16.10px;height:9.36px;line-height:10.86px;background:#f9f9fd;font-size:5.3px">0.00</div>
<div class="c" style="left:104.30px;top:707.76px;width:16.10px;height:9.36px;line-height:10.86px;background:rgb(255,81,81);font-size:5.3px">2.73</div>
<div class="c" style="left:120.10px;top:707.76px;width:16.10px;height:9.36px;line-height:10.86px;background:#f9f9fd;font-size:5.3px">0.00</div>
<div class="c" style="left:72.70px;top:716.82px;width:16.10px;height:9.36px;line-height:10.86px;background:#f9f9fd;font-size:5.3px">0.00</div>
<div class="c" style="left:88.50px;top:716.82px;width:16.10px;height:9.36px;line-height:10.86px;background:rgb(255,94,94);font-size:5.3px">2.52</div>
<div class="c" style="left:104.30px;top:716.82px;width:16.10px;height:9.36px;line-height:10.86px;background:rgb(255,91,91);font-size:5.3px">2.58</div>
<div class="c" style="left:120.10px;top:716.82px;width:16.10px;height:9.36px;line-height:10.86px;background:rgb(255,105,105);font-size:5.3px">2.36</div>
<div class="c" style="left:72.70px;top:725.88px;width:16.10px;height:9.36px;line-height:10.86px;background:#f9f9fd;font-size:5.3px">0.00</div>
<div class="c" style="left:88.50px;top:725.88px;width:16.10px;height:9.36px;line-height:10.86px;background:rgb(255,112,112);font-size:5.3px">2.25</div>
<div class="c" style="left:104.30px;top:725.88px;width:16.10px;height:9.36px;line-height:10.86px;background:rgb(255,89,89);font-size:5.3px">2.61</div>
<div class="c" style="left:120.10px;top:725.88px;width:16.10px;height:9.36px;line-height:10.86px;background:rgb(255,98,98);font-size:5.3px">2.47</div>
<div class="c" style="left:72.70px;top:734.94px;width:16.10px;height:9.36px;line-height:10.86px;background:#f9f9fd;font-size:5.3px">0.00</div>
<div class="c" style="left:88.50px;top:734.94px;width:16.10px;height:9.36px;line-height:10.86px;background:#f9f9fd;font-size:5.3px">0.00</div>
<div class="c" style="left:104.30px;top:734.94px;width:16.10px;height:9.36px;line-height:10.86px;background:rgb(255,70,70);font-size:5.3px">2.90</div>
<div class="c" style="left:120.10px;top:734.94px;width:16.10px;height:9.36px;line-height:10.86px;background:rgb(255,86,86);font-size:5.3px">2.65</div>
<div class="c" style="left:72.70px;top:744.00px;width:16.10px;height:9.36px;line-height:10.86px;background:#f9f9fd;font-size:5.3px">0.00</div>
<div class="c" style="left:88.50px;top:744.00px;width:16.10px;height:9.36px;line-height:10.86px;background:rgb(255,103,103);font-size:5.3px">2.38</div>
<div class="c" style="left:104.30px;top:744.00px;width:16.10px;height:9.36px;line-height:10.86px;background:#f9f9fd;font-size:5.3px">0.00</div>
<div class="c" style="left:120.10px;top:744.00px;width:16.10px;height:9.36px;line-height:10.86px;background:#f9f9fd;font-size:5.3px">0.00</div>
<div class="c" style="left:72.70px;top:753.06px;width:16.10px;height:9.36px;line-height:10.86px;background:rgb(101,101,255);font-size:5.3px">- 2.42</div>
<div class="c" style="left:88.50px;top:753.06px;width:16.10px;height:9.36px;line-height:10.86px;background:#f9f9fd;font-size:5.3px">0.00</div>
<div class="c" style="left:104.30px;top:753.06px;width:16.10px;height:9.36px;line-height:10.86px;background:rgb(89,89,255);font-size:5.3px">- 2.61</div>
<div class="c" style="left:120.10px;top:753.06px;width:16.10px;height:9.36px;line-height:10.86px;background:#f9f9fd;font-size:5.3px">0.00</div>
<div class="c" style="left:72.70px;top:762.12px;width:16.10px;height:9.36px;line-height:10.86px;background:rgb(255,93,93);font-size:5.3px">2.54</div>
<div class="c" style="left:88.50px;top:762.12px;width:16.10px;height:9.36px;line-height:10.86px;background:rgb(255,113,113);font-size:5.3px">2.23</div>
<div class="c" style="left:104.30px;top:762.12px;width:16.10px;height:9.36px;line-height:10.86px;background:rgb(255,74,74);font-size:5.3px">2.84</div>
<div class="c" style="left:120.10px;top:762.12px;width:16.10px;height:9.36px;line-height:10.86px;background:#f9f9fd;font-size:5.3px">0.00</div>
<div class="c" style="left:72.70px;top:771.18px;width:16.10px;height:9.36px;line-height:10.86px;background:rgb(255,66,66);font-size:5.3px">2.97</div>
<div class="c" style="left:88.50px;top:771.18px;width:16.10px;height:9.36px;line-height:10.86px;background:rgb(255,103,103);font-size:5.3px">2.38</div>
<div class="c" style="left:104.30px;top:771.18px;width:16.10px;height:9.36px;line-height:10.86px;background:rgb(255,52,52);font-size:5.3px">3.18</div>
<div class="c" style="left:120.10px;top:771.18px;width:16.10px;height:9.36px;line-height:10.86px;background:#f9f9fd;font-size:5.3px">0.00</div>
<div class="c" style="left:72.70px;top:780.24px;width:16.10px;height:9.36px;line-height:10.86px;background:rgb(255,70,70);font-size:5.3px">2.90</div>
<div class="c" style="left:88.50px;top:780.24px;width:16.10px;height:9.36px;line-height:10.86px;background:rgb(255,108,108);font-size:5.3px">2.30</div>
<div class="c" style="left:104.30px;top:780.24px;width:16.10px;height:9.36px;line-height:10.86px;background:rgb(255,78,78);font-size:5.3px">2.78</div>
<div class="c" style="left:120.10px;top:780.24px;width:16.10px;height:9.36px;line-height:10.86px;background:rgb(101,101,255);font-size:5.3px">- 2.41</div>
<div class="c" style="left:72.70px;top:789.30px;width:16.10px;height:9.36px;line-height:10.86px;background:rgb(255,68,68);font-size:5.3px">2.94</div>
<div class="c" style="left:88.50px;top:789.30px;width:16.10px;height:9.36px;line-height:10.86px;background:#f9f9fd;font-size:5.3px">0.00</div>
<div class="c" style="left:104.30px;top:789.30px;width:16.10px;height:9.36px;line-height:10.86px;background:#f9f9fd;font-size:5.3px">0.00</div>
<div class="c" style="left:120.10px;top:789.30px;width:16.10px;height:9.36px;line-height:10.86px;background:#f9f9fd;font-size:5.3px">0.00</div>
<div class="c" style="left:72.70px;top:798.36px;width:16.10px;height:9.36px;line-height:10.86px;background:rgb(255,59,59);font-size:5.3px">3.07</div>
<div class="c" style="left:88.50px;top:798.36px;width:16.10px;height:9.36px;line-height:10.86px;background:#f9f9fd;font-size:5.3px">0.00</div>
<div class="c" style="left:104.30px;top:798.36px;width:16.10px;height:9.36px;line-height:10.86px;background:#f9f9fd;font-size:5.3px">0.00</div>
<div class="c" style="left:120.10px;top:798.36px;width:16.10px;height:9.36px;line-height:10.86px;background:#f9f9fd;font-size:5.3px">0.00</div>
<div class="c" style="left:72.70px;top:807.42px;width:16.10px;height:9.36px;line-height:10.86px;background:rgb(255,94,94);font-size:5.3px">2.53</div>
<div class="c" style="left:88.50px;top:807.42px;width:16.10px;height:9.36px;line-height:10.86px;background:#f9f9fd;font-size:5.3px">0.00</div>
<div class="c" style="left:104.30px;top:807.42px;width:16.10px;height:9.36px;line-height:10.86px;background:rgb(255,111,111);font-size:5.3px">2.26</div>
<div class="c" style="left:120.10px;top:807.42px;width:16.10px;height:9.36px;line-height:10.86px;background:rgb(155,155,255);font-size:5.3px">- 1.57</div>
<div class="t" style="left:137.40px;top:562.80px;height:9.06px;line-height:11.46px;font-size:8.45px">Hypoxanthine</div>
<div class="t" style="left:137.40px;top:571.86px;height:9.06px;line-height:11.46px;font-size:8.45px">Threonine</div>
<div class="t" style="left:137.40px;top:580.92px;height:9.06px;line-height:11.46px;font-size:8.45px">Pyroglutamate</div>
<div class="t" style="left:137.40px;top:589.98px;height:9.06px;line-height:11.46px;font-size:8.45px">Formate</div>
<div class="t" style="left:137.40px;top:599.04px;height:9.06px;line-height:11.46px;font-size:8.45px">Isoleucine</div>
<div class="t" style="left:137.40px;top:608.10px;height:9.06px;line-height:11.46px;font-size:8.45px">Betaine</div>
<div class="t" style="left:137.40px;top:617.16px;height:9.06px;line-height:11.46px;font-size:8.45px">2- Phenylpropionate</div>
<div class="t" style="left:137.40px;top:626.22px;height:9.06px;line-height:11.46px;font-size:8.45px">2- Hydroxyisocaproate</div>
<div class="t" style="left:137.40px;top:635.28px;height:9.06px;line-height:11.46px;font-size:8.45px">Methylsuccinate</div>
<div class="t" style="left:137.40px;top:644.34px;height:9.06px;line-height:11.46px;font-size:8.45px">Carnitine</div>
<div class="t" style="left:137.40px;top:653.40px;height:9.06px;line-height:11.46px;font-size:8.45px">Oxypurinol</div>
<div class="t" style="left:137.40px;top:662.46px;height:9.06px;line-height:11.46px;font-size:8.45px">3- Hydroxy- 3- methylglutarate</div>
<div class="t" style="left:137.40px;top:671.52px;height:9.06px;line-height:11.46px;font-size:8.45px">Glutathione</div>
<div class="t" style="left:137.40px;top:680.58px;height:9.06px;line-height:11.46px;font-size:8.45px">N- Acetylglutamine</div>
<div class="t" style="left:137.40px;top:689.64px;height:9.06px;line-height:11.46px;font-size:8.45px">Dimethylamine</div>
<div class="t" style="left:137.40px;top:698.70px;height:9.06px;line-height:11.46px;font-size:8.45px">3- Hydroxyisovalerate</div>
<div class="t" style="left:137.40px;top:707.76px;height:9.06px;line-height:11.46px;font-size:8.45px">Isocitrate</div>
<div class="t" style="left:137.40px;top:716.82px;height:9.06px;line-height:11.46px;font-size:8.45px">Glutamine</div>
<div class="t" style="left:137.40px;top:725.88px;height:9.06px;line-height:11.46px;font-size:8.45px">Methylamine</div>
<div class="t" style="left:137.40px;top:734.94px;height:9.06px;line-height:11.46px;font-size:8.45px">Creatine</div>
<div class="t" style="left:137.40px;top:744.00px;height:9.06px;line-height:11.46px;font-size:8.45px">Creatine phosphate</div>
<div class="t" style="left:137.40px;top:753.06px;height:9.06px;line-height:11.46px;font-size:8.45px">Lactate</div>
<div class="t" style="left:137.40px;top:762.12px;height:9.06px;line-height:11.46px;font-size:8.45px">Glycine</div>
<div class="t" style="left:137.40px;top:771.18px;height:9.06px;line-height:11.46px;font-size:8.45px">Sarcosine</div>
<div class="t" style="left:137.40px;top:780.24px;height:9.06px;line-height:11.46px;font-size:8.45px">Trimethylamine N- oxide</div>
<div class="t" style="left:137.40px;top:789.30px;height:9.06px;line-height:11.46px;font-size:8.45px">Choline</div>
<div class="t" style="left:137.40px;top:798.36px;height:9.06px;line-height:11.46px;font-size:8.45px">Levulinate</div>
<div class="t" style="left:137.40px;top:807.42px;height:9.06px;line-height:11.46px;font-size:8.45px">Acetone</div>
<div class="t gb" style="left:137.40px;top:552.60px;line-height:10px;font-size:6.3px">Group</div>
<div class="v" style="left:75.60px;top:819.00px;width:10px;line-height:10px;font-size:8.2px">NCTC8325_VAN/CT</div>
<div class="v" style="left:91.40px;top:819.00px;width:10px;line-height:10px;font-size:8.2px">NCTC8325_OXA/CT</div>
<div class="v" style="left:107.20px;top:819.00px;width:10px;line-height:10px;font-size:8.2px">NCTC8325_CHL/CT</div>
<div class="v" style="left:123.00px;top:819.00px;width:10px;line-height:10px;font-size:8.2px">NCTC13169 _CHL/CT</div>
<div class="b" style="left:254.90px;top:554.10px;width:5.10px;height:79.70px;background:linear-gradient(to bottom,#ff0000,#ffffff,#0000ff)"></div>
<div class="t" style="left:262.00px;top:549.10px;line-height:10px;font-size:5.6px">4</div>
<div class="t" style="left:262.00px;top:559.06px;line-height:10px;font-size:5.6px">3</div>
<div class="t" style="left:262.00px;top:569.02px;line-height:10px;font-size:5.6px">2</div>
<div class="t" style="left:262.00px;top:578.99px;line-height:10px;font-size:5.6px">1</div>
<div class="t" style="left:262.00px;top:588.95px;line-height:10px;font-size:5.6px">0</div>
<div class="t" style="left:262.00px;top:598.91px;line-height:10px;font-size:5.6px">- 1</div>
<div class="t" style="left:262.00px;top:608.88px;line-height:10px;font-size:5.6px">- 2</div>
<div class="t" style="left:262.00px;top:618.84px;line-height:10px;font-size:5.6px">- 3</div>
<div class="t" style="left:262.00px;top:628.80px;line-height:10px;font-size:5.6px">- 4</div>
<div class="t gb" style="left:273.00px;top:551.70px;line-height:10px;font-size:6.0px">Group</div>
<div class="b" style="left:273.00px;top:561.10px;width:9.10px;height:8.80px;background:#1ef7f7"></div>
<div class="b" style="left:273.00px;top:569.90px;width:9.10px;height:9.00px;background:#ff8383"></div>
<div class="t" style="left:283.80px;top:560.80px;line-height:10px;font-size:6.3px">NCTC13169</div>
<div class="t" style="left:283.80px;top:569.80px;line-height:10px;font-size:6.3px">NCTC8325</div>
<div class="t" style="left:0.00px;top:501.90px;line-height:24px;letter-spacing:0.7px;-webkit-text-stroke:0;font-size:21.5px">c)</div>
<div class="b" style="left:427.20px;top:533.10px;width:17.75px;height:5.50px;background:#ff8383"></div>
<div class="b" style="left:444.65px;top:533.10px;width:17.75px;height:5.50px;background:#ff8383"></div>
<div class="b" style="left:462.10px;top:533.10px;width:17.75px;height:5.50px;background:#ff8383"></div>
<div class="b" style="left:479.55px;top:533.10px;width:17.75px;height:5.50px;background:#1ef7f7"></div>
<div class="c" style="left:427.20px;top:540.80px;width:17.75px;height:8.18px;line-height:9.68px;background:#f9f9fd;font-size:4.5px">0.00</div>
<div class="c" style="left:444.65px;top:540.80px;width:17.75px;height:8.18px;line-height:9.68px;background:#f9f9fd;font-size:4.5px">0.00</div>
<div class="c" style="left:462.10px;top:540.80px;width:17.75px;height:8.18px;line-height:9.68px;background:#f9f9fd;font-size:4.5px">0.00</div>
<div class="c" style="left:479.55px;top:540.80px;width:17.75px;height:8.18px;line-height:9.68px;background:rgb(255,161,161);font-size:4.5px">2.58</div>
<div class="c" style="left:427.20px;top:548.68px;width:17.75px;height:8.18px;line-height:9.68px;background:#f9f9fd;font-size:4.5px">0.00</div>
<div class="c" style="left:444.65px;top:548.68px;width:17.75px;height:8.18px;line-height:9.68px;background:#f9f9fd;font-size:4.5px">0.00</div>
<div class="c" style="left:462.10px;top:548.68px;width:17.75px;height:8.18px;line-height:9.68px;background:#f9f9fd;font-size:4.5px">0.00</div>
<div class="c" style="left:479.55px;top:548.68px;width:17.75px;height:8.18px;line-height:9.68px;background:rgb(255,161,161);font-size:4.5px">2.59</div>
<div class="c" style="left:427.20px;top:556.55px;width:17.75px;height:8.18px;line-height:9.68px;background:#f9f9fd;font-size:4.5px">0.00</div>
<div class="c" style="left:444.65px;top:556.55px;width:17.75px;height:8.18px;line-height:9.68px;background:#f9f9fd;font-size:4.5px">0.00</div>
<div class="c" style="left:462.10px;top:556.55px;width:17.75px;height:8.18px;line-height:9.68px;background:#f9f9fd;font-size:4.5px">0.00</div>
<div class="c" style="left:479.55px;top:556.55px;width:17.75px;height:8.18px;line-height:9.68px;background:rgb(255,162,162);font-size:4.5px">2.56</div>
<div class="c" style="left:427.20px;top:564.43px;width:17.75px;height:8.18px;line-height:9.68px;background:#f9f9fd;font-size:4.5px">0.00</div>
<div class="c" style="left:444.65px;top:564.43px;width:17.75px;height:8.18px;line-height:9.68px;background:#f9f9fd;font-size:4.5px">0.00</div>
<div class="c" style="left:462.10px;top:564.43px;width:17.75px;height:8.18px;line-height:9.68px;background:#f9f9fd;font-size:4.5px">0.00</div>
<div class="c" style="left:479.55px;top:564.43px;width:17.75px;height:8.18px;line-height:9.68px;background:rgb(255,145,145);font-size:4.5px">3.03</div>
<div class="c" style="left:427.20px;top:572.30px;width:17.75px;height:8.18px;line-height:9.68px;background:#f9f9fd;font-size:4.5px">0.00</div>
<div class="c" style="left:444.65px;top:572.30px;width:17.75px;height:8.18px;line-height:9.68px;background:rgb(144,144,255);font-size:4.5px">- 3.06</div>
<div class="c" style="left:462.10px;top:572.30px;width:17.75px;height:8.18px;line-height:9.68px;background:#f9f9fd;font-size:4.5px">0.00</div>
<div class="c" style="left:479.55px;top:572.30px;width:17.75px;height:8.18px;line-height:9.68px;background:#f9f9fd;font-size:4.5px">0.00</div>
<div class="c" style="left:427.20px;top:580.18px;width:17.75px;height:8.18px;line-height:9.68px;background:rgb(158,158,255);font-size:4.5px">- 2.65</div>
<div class="c" style="left:444.65px;top:580.18px;width:17.75px;height:8.18px;line-height:9.68px;background:rgb(164,164,255);font-size:4.5px">- 2.49</div>
<div class="c" style="left:462.10px;top:580.18px;width:17.75px;height:8.18px;line-height:9.68px;background:rgb(146,146,255);font-size:4.5px">- 2.98</div>
<div class="c" style="left:479.55px;top:580.18px;width:17.75px;height:8.18px;line-height:9.68px;background:#f9f9fd;font-size:4.5px">0.00</div>
<div class="c" style="left:427.20px;top:588.06px;width:17.75px;height:8.18px;line-height:9.68px;background:rgb(161,161,255);font-size:4.5px">- 2.59</div>
<div class="c" style="left:444.65px;top:588.06px;width:17.75px;height:8.18px;line-height:9.68px;background:rgb(165,165,255);font-size:4.5px">- 2.46</div>
<div class="c" style="left:462.10px;top:588.06px;width:17.75px;height:8.18px;line-height:9.68px;background:rgb(161,161,255);font-size:4.5px">- 2.59</div>
<div class="c" style="left:479.55px;top:588.06px;width:17.75px;height:8.18px;line-height:9.68px;background:#f9f9fd;font-size:4.5px">0.00</div>
<div class="c" style="left:427.20px;top:595.93px;width:17.75px;height:8.18px;line-height:9.68px;background:rgb(164,164,255);font-size:4.5px">- 2.51</div>
<div class="c" style="left:444.65px;top:595.93px;width:17.75px;height:8.18px;line-height:9.68px;background:rgb(170,170,255);font-size:4.5px">- 2.34</div>
<div class="c" style="left:462.10px;top:595.93px;width:17.75px;height:8.18px;line-height:9.68px;background:rgb(164,164,255);font-size:4.5px">- 2.51</div>
<div class="c" style="left:479.55px;top:595.93px;width:17.75px;height:8.18px;line-height:9.68px;background:#f9f9fd;font-size:4.5px">0.00</div>
<div class="c" style="left:427.20px;top:603.81px;width:17.75px;height:8.18px;line-height:9.68px;background:rgb(136,136,255);font-size:4.5px">- 3.28</div>
<div class="c" style="left:444.65px;top:603.81px;width:17.75px;height:8.18px;line-height:9.68px;background:rgb(143,143,255);font-size:4.5px">- 3.08</div>
<div class="c" style="left:462.10px;top:603.81px;width:17.75px;height:8.18px;line-height:9.68px;background:rgb(136,136,255);font-size:4.5px">- 3.28</div>
<div class="c" style="left:479.55px;top:603.81px;width:17.75px;height:8.18px;line-height:9.68px;background:#f9f9fd;font-size:4.5px">0.00</div>
<div class="c" style="left:427.20px;top:611.68px;width:17.75px;height:8.18px;line-height:9.68px;background:rgb(146,146,255);font-size:4.5px">- 3.00</div>
<div class="c" style="left:444.65px;top:611.68px;width:17.75px;height:8.18px;line-height:9.68px;background:rgb(158,158,255);font-size:4.5px">- 2.67</div>
<div class="c" style="left:462.10px;top:611.68px;width:17.75px;height:8.18px;line-height:9.68px;background:rgb(144,144,255);font-size:4.5px">- 3.06</div>
<div class="c" style="left:479.55px;top:611.68px;width:17.75px;height:8.18px;line-height:9.68px;background:#f9f9fd;font-size:4.5px">0.00</div>
<div class="c" style="left:427.20px;top:619.56px;width:17.75px;height:8.18px;line-height:9.68px;background:rgb(120,120,255);font-size:4.5px">- 3.70</div>
<div class="c" style="left:444.65px;top:619.56px;width:17.75px;height:8.18px;line-height:9.68px;background:rgb(157,157,255);font-size:4.5px">- 2.70</div>
<div class="c" style="left:462.10px;top:619.56px;width:17.75px;height:8.18px;line-height:9.68px;background:rgb(151,151,255);font-size:4.5px">- 2.86</div>
<div class="c" style="left:479.55px;top:619.56px;width:17.75px;height:8.18px;line-height:9.68px;background:#f9f9fd;font-size:4.5px">0.00</div>
<div class="c" style="left:427.20px;top:627.44px;width:17.75px;height:8.18px;line-height:9.68px;background:rgb(138,138,255);font-size:4.5px">- 3.20</div>
<div class="c" style="left:444.65px;top:627.44px;width:17.75px;height:8.18px;line-height:9.68px;background:rgb(163,163,255);font-size:4.5px">- 2.52</div>
<div class="c" style="left:462.10px;top:627.44px;width:17.75px;height:8.18px;line-height:9.68px;background:rgb(146,146,255);font-size:4.5px">- 2.99</div>
<div class="c" style="left:479.55px;top:627.44px;width:17.75px;height:8.18px;line-height:9.68px;background:rgb(190,190,255);font-size:4.5px">- 1.79</div>
<div class="c" style="left:427.20px;top:635.31px;width:17.75px;height:8.18px;line-height:9.68px;background:rgb(126,126,255);font-size:4.5px">- 3.55</div>
<div class="c" style="left:444.65px;top:635.31px;width:17.75px;height:8.18px;line-height:9.68px;background:rgb(130,130,255);font-size:4.5px">- 3.43</div>
<div class="c" style="left:462.10px;top:635.31px;width:17.75px;height:8.18px;line-height:9.68px;background:#f9f9fd;font-size:4.5px">0.00</div>
<div class="c" style="left:479.55px;top:635.31px;width:17.75px;height:8.18px;line-height:9.68px;background:#f9f9fd;font-size:4.5px">0.00</div>
<div class="c" style="left:427.20px;top:643.19px;width:17.75px;height:8.18px;line-height:9.68px;background:rgb(117,117,255);font-size:4.5px">- 3.78</div>
<div class="c" style="left:444.65px;top:643.19px;width:17.75px;height:8.18px;line-height:9.68px;background:rgb(122,122,255);font-size:4.5px">- 3.65</div>
<div class="c" style="left:462.10px;top:643.19px;width:17.75px;height:8.18px;line-height:9.68px;background:#f9f9fd;font-size:4.5px">0.00</div>
<div class="c" style="left:479.55px;top:643.19px;width:17.75px;height:8.18px;line-height:9.68px;background:#f9f9fd;font-size:4.5px">0.00</div>
<div class="c" style="left:427.20px;top:651.06px;width:17.75px;height:8.18px;line-height:9.68px;background:rgb(107,107,255);font-size:4.5px">- 4.05</div>
<div class="c" style="left:444.65px;top:651.06px;width:17.75px;height:8.18px;line-height:9.68px;background:rgb(66,66,255);font-size:4.5px">- 5.20</div>
<div class="c" style="left:462.10px;top:651.06px;width:17.75px;height:8.18px;line-height:9.68px;background:#f9f9fd;font-size:4.5px">0.00</div>
<div class="c" style="left:479.55px;top:651.06px;width:17.75px;height:8.18px;line-height:9.68px;background:#f9f9fd;font-size:4.5px">0.00</div>
<div class="c" style="left:427.20px;top:658.94px;width:17.75px;height:8.18px;line-height:9.68px;background:rgb(40,40,255);font-size:4.5px">- 5.89</div>
<div class="c" style="left:444.65px;top:658.94px;width:17.75px;height:8.18px;line-height:9.68px;background:#f9f9fd;font-size:4.5px">0.00</div>
<div class="c" style="left:462.10px;top:658.94px;width:17.75px;height:8.18px;line-height:9.68px;background:#f9f9fd;font-size:4.5px">0.00</div>
<div class="c" style="left:479.55px;top:658.94px;width:17.75px;height:8.18px;line-height:9.68px;background:#f9f9fd;font-size:4.5px">0.00</div>
<div class="c" style="left:427.20px;top:666.82px;width:17.75px;height:8.18px;line-height:9.68px;background:rgb(255,160,160);font-size:4.5px">2.60</div>
<div class="c" style="left:444.65px;top:666.82px;width:17.75px;height:8.18px;line-height:9.68px;background:rgb(255,143,143);font-size:4.5px">3.08</div>
<div class="c" style="left:462.10px;top:666.82px;width:17.75px;height:8.18px;line-height:9.68px;background:rgb(255,156,156);font-size:4.5px">2.73</div>
<div class="c" style="left:479.55px;top:666.82px;width:17.75px;height:8.18px;line-height:9.68px;background:rgb(255,151,151);font-size:4.5px">2.85</div>
<div class="c" style="left:427.20px;top:674.69px;width:17.75px;height:8.18px;line-height:9.68px;background:rgb(255,156,156);font-size:4.5px">2.73</div>
<div class="c" style="left:444.65px;top:674.69px;width:17.75px;height:8.18px;line-height:9.68px;background:rgb(255,141,141);font-size:4.5px">3.13</div>
<div class="c" style="left:462.10px;top:674.69px;width:17.75px;height:8.18px;line-height:9.68px;background:rgb(255,155,155);font-size:4.5px">2.74</div>
<div class="c" style="left:479.55px;top:674.69px;width:17.75px;height:8.18px;line-height:9.68px;background:rgb(255,155,155);font-size:4.5px">2.75</div>
<div class="c" style="left:427.20px;top:682.57px;width:17.75px;height:8.18px;line-height:9.68px;background:rgb(255,159,159);font-size:4.5px">2.64</div>
<div class="c" style="left:444.65px;top:682.57px;width:17.75px;height:8.18px;line-height:9.68px;background:rgb(255,157,157);font-size:4.5px">2.69</div>
<div class="c" style="left:462.10px;top:682.57px;width:17.75px;height:8.18px;line-height:9.68px;background:rgb(255,160,160);font-size:4.5px">2.60</div>
<div class="c" style="left:479.55px;top:682.57px;width:17.75px;height:8.18px;line-height:9.68px;background:rgb(255,151,151);font-size:4.5px">2.85</div>
<div class="c" style="left:427.20px;top:690.44px;width:17.75px;height:8.18px;line-height:9.68px;background:rgb(255,156,156);font-size:4.5px">2.73</div>
<div class="c" style="left:444.65px;top:690.44px;width:17.75px;height:8.18px;line-height:9.68px;background:rgb(255,157,157);font-size:4.5px">2.70</div>
<div class="c" style="left:462.10px;top:690.44px;width:17.75px;height:8.18px;line-height:9.68px;background:rgb(255,165,165);font-size:4.5px">2.46</div>
<div class="c" style="left:479.55px;top:690.44px;width:17.75px;height:8.18px;line-height:9.68px;background:rgb(255,157,157);font-size:4.5px">2.68</div>
<div class="c" style="left:427.20px;top:698.32px;width:17.75px;height:8.18px;line-height:9.68px;background:rgb(255,166,166);font-size:4.5px">2.43</div>
<div class="c" style="left:444.65px;top:698.32px;width:17.75px;height:8.18px;line-height:9.68px;background:rgb(255,158,158);font-size:4.5px">2.65</div>
<div class="c" style="left:462.10px;top:698.32px;width:17.75px;height:8.18px;line-height:9.68px;background:rgb(255,161,161);font-size:4.5px">2.58</div>
<div class="c" style="left:479.55px;top:698.32px;width:17.75px;height:8.18px;line-height:9.68px;background:rgb(255,150,150);font-size:4.5px">2.89</div>
<div class="c" style="left:427.20px;top:706.20px;width:17.75px;height:8.18px;line-height:9.68px;background:rgb(255,139,139);font-size:4.5px">3.19</div>
<div class="c" style="left:444.65px;top:706.20px;width:17.75px;height:8.18px;line-height:9.68px;background:rgb(255,144,144);font-size:4.5px">3.05</div>
<div class="c" style="left:462.10px;top:706.20px;width:17.75px;height:8.18px;line-height:9.68px;background:rgb(255,159,159);font-size:4.5px">2.63</div>
<div class="c" style="left:479.55px;top:706.20px;width:17.75px;height:8.18px;line-height:9.68px;background:rgb(255,154,154);font-size:4.5px">2.78</div>
<div class="c" style="left:427.20px;top:714.07px;width:17.75px;height:8.18px;line-height:9.68px;background:rgb(255,162,162);font-size:4.5px">2.56</div>
<div class="c" style="left:444.65px;top:714.07px;width:17.75px;height:8.18px;line-height:9.68px;background:rgb(255,152,152);font-size:4.5px">2.82</div>
<div class="c" style="left:462.10px;top:714.07px;width:17.75px;height:8.18px;line-height:9.68px;background:rgb(255,153,153);font-size:4.5px">2.81</div>
<div class="c" style="left:479.55px;top:714.07px;width:17.75px;height:8.18px;line-height:9.68px;background:#f9f9fd;font-size:4.5px">0.00</div>
<div class="c" style="left:427.20px;top:721.95px;width:17.75px;height:8.18px;line-height:9.68px;background:rgb(255,158,158);font-size:4.5px">2.66</div>
<div class="c" style="left:444.65px;top:721.95px;width:17.75px;height:8.18px;line-height:9.68px;background:rgb(255,147,147);font-size:4.5px">2.96</div>
<div class="c" style="left:462.10px;top:721.95px;width:17.75px;height:8.18px;line-height:9.68px;background:rgb(255,154,154);font-size:4.5px">2.78</div>
<div class="c" style="left:479.55px;top:721.95px;width:17.75px;height:8.18px;line-height:9.68px;background:#f9f9fd;font-size:4.5px">0.00</div>
<div class="c" style="left:427.20px;top:729.82px;width:17.75px;height:8.18px;line-height:9.68px;background:rgb(255,155,155);font-size:4.5px">2.75</div>
<div class="c" style="left:444.65px;top:729.82px;width:17.75px;height:8.18px;line-height:9.68px;background:rgb(255,154,154);font-size:4.5px">2.78</div>
<div class="c" style="left:462.10px;top:729.82px;width:17.75px;height:8.18px;line-height:9.68px;background:rgb(255,151,151);font-size:4.5px">2.86</div>
<div class="c" style="left:479.55px;top:729.82px;width:17.75px;height:8.18px;line-height:9.68px;background:#f9f9fd;font-size:4.5px">0.00</div>
<div class="c" style="left:427.20px;top:737.70px;width:17.75px;height:8.18px;line-height:9.68px;background:rgb(255,156,156);font-size:4.5px">2.71</div>
<div class="c" style="left:444.65px;top:737.70px;width:17.75px;height:8.18px;line-height:9.68px;background:rgb(255,139,139);font-size:4.5px">3.19</div>
<div class="c" style="left:462.10px;top:737.70px;width:17.75px;height:8.18px;line-height:9.68px;background:rgb(255,141,141);font-size:4.5px">3.12</div>
<div class="c" style="left:479.55px;top:737.70px;width:17.75px;height:8.18px;line-height:9.68px;background:#f9f9fd;font-size:4.5px">0.00</div>
<div class="c" style="left:427.20px;top:745.58px;width:17.75px;height:8.18px;line-height:9.68px;background:rgb(255,146,146);font-size:4.5px">3.00</div>
<div class="c" style="left:444.65px;top:745.58px;width:17.75px;height:8.18px;line-height:9.68px;background:rgb(255,153,153);font-size:4.5px">2.79</div>
<div class="c" style="left:462.10px;top:745.58px;width:17.75px;height:8.18px;line-height:9.68px;background:rgb(255,162,162);font-size:4.5px">2.56</div>
<div class="c" style="left:479.55px;top:745.58px;width:17.75px;height:8.18px;line-height:9.68px;background:#f9f9fd;font-size:4.5px">0.00</div>
<div class="c" style="left:427.20px;top:753.45px;width:17.75px;height:8.18px;line-height:9.68px;background:rgb(255,140,140);font-size:4.5px">3.15</div>
<div class="c" style="left:444.65px;top:753.45px;width:17.75px;height:8.18px;line-height:9.68px;background:rgb(255,107,107);font-size:4.5px">4.05</div>
<div class="c" style="left:462.10px;top:753.45px;width:17.75px;height:8.18px;line-height:9.68px;background:rgb(255,150,150);font-size:4.5px">2.87</div>
<div class="c" style="left:479.55px;top:753.45px;width:17.75px;height:8.18px;line-height:9.68px;background:#f9f9fd;font-size:4.5px">0.00</div>
<div class="c" style="left:427.20px;top:761.33px;width:17.75px;height:8.18px;line-height:9.68px;background:rgb(255,160,160);font-size:4.5px">2.62</div>
<div class="c" style="left:444.65px;top:761.33px;width:17.75px;height:8.18px;line-height:9.68px;background:#f9f9fd;font-size:4.5px">0.00</div>
<div class="c" style="left:462.10px;top:761.33px;width:17.75px;height:8.18px;line-height:9.68px;background:rgb(255,160,160);font-size:4.5px">2.60</div>
<div class="c" style="left:479.55px;top:761.33px;width:17.75px;height:8.18px;line-height:9.68px;background:#f9f9fd;font-size:4.5px">0.00</div>
<div class="c" style="left:427.20px;top:769.20px;width:17.75px;height:8.18px;line-height:9.68px;background:#f9f9fd;font-size:4.5px">0.00</div>
<div class="c" style="left:444.65px;top:769.20px;width:17.75px;height:8.18px;line-height:9.68px;background:#f9f9fd;font-size:4.5px">0.00</div>
<div class="c" style="left:462.10px;top:769.20px;width:17.75px;height:8.18px;line-height:9.68px;background:rgb(255,153,153);font-size:4.5px">2.80</div>
<div class="c" style="left:479.55px;top:769.20px;width:17.75px;height:8.18px;line-height:9.68px;background:#f9f9fd;font-size:4.5px">0.00</div>
<div class="c" style="left:427.20px;top:777.08px;width:17.75px;height:8.18px;line-height:9.68px;background:#f9f9fd;font-size:4.5px">0.00</div>
<div class="c" style="left:444.65px;top:777.08px;width:17.75px;height:8.18px;line-height:9.68px;background:rgb(255,142,142);font-size:4.5px">3.09</div>
<div class="c" style="left:462.10px;top:777.08px;width:17.75px;height:8.18px;line-height:9.68px;background:rgb(255,140,140);font-size:4.5px">3.17</div>
<div class="c" style="left:479.55px;top:777.08px;width:17.75px;height:8.18px;line-height:9.68px;background:#f9f9fd;font-size:4.5px">0.00</div>
<div class="c" style="left:427.20px;top:784.96px;width:17.75px;height:8.18px;line-height:9.68px;background:rgb(255,148,148);font-size:4.5px">2.94</div>
<div class="c" style="left:444.65px;top:784.96px;width:17.75px;height:8.18px;line-height:9.68px;background:#f9f9fd;font-size:4.5px">0.00</div>
<div class="c" style="left:462.10px;top:784.96px;width:17.75px;height:8.18px;line-height:9.68px;background:#f9f9fd;font-size:4.5px">0.00</div>
<div class="c" style="left:479.55px;top:784.96px;width:17.75px;height:8.18px;line-height:9.68px;background:#f9f9fd;font-size:4.5px">0.00</div>
<div class="c" style="left:427.20px;top:792.83px;width:17.75px;height:8.18px;line-height:9.68px;background:rgb(255,140,140);font-size:4.5px">3.15</div>
<div class="c" style="left:444.65px;top:792.83px;width:17.75px;height:8.18px;line-height:9.68px;background:#f9f9fd;font-size:4.5px">0.00</div>
<div class="c" style="left:462.10px;top:792.83px;width:17.75px;height:8.18px;line-height:9.68px;background:#f9f9fd;font-size:4.5px">0.00</div>
<div class="c" style="left:479.55px;top:792.83px;width:17.75px;height:8.18px;line-height:9.68px;background:#f9f9fd;font-size:4.5px">0.00</div>
<div class="c" style="left:427.20px;top:800.71px;width:17.75px;height:8.18px;line-height:9.68px;background:rgb(255,166,166);font-size:4.5px">2.45</div>
<div class="c" style="left:444.65px;top:800.71px;width:17.75px;height:8.18px;line-height:9.68px;background:#f9f9fd;font-size:4.5px">0.00</div>
<div class="c" style="left:462.10px;top:800.71px;width:17.75px;height:8.18px;line-height:9.68px;background:#f9f9fd;font-size:4.5px">0.00</div>
<div class="c" style="left:479.55px;top:800.71px;width:17.75px;height:8.18px;line-height:9.68px;background:#f9f9fd;font-size:4.5px">0.00</div>
<div class="c" style="left:427.20px;top:808.58px;width:17.75px;height:8.18px;line-height:9.68px;background:rgb(255,158,158);font-size:4.5px">2.65</div>
<div class="c" style="left:444.65px;top:808.58px;width:17.75px;height:8.18px;line-height:9.68px;background:#f9f9fd;font-size:4.5px">0.00</div>
<div class="c" style="left:462.10px;top:808.58px;width:17.75px;height:8.18px;line-height:9.68px;background:#f9f9fd;font-size:4.5px">0.00</div>
<div class="c" style="left:479.55px;top:808.58px;width:17.75px;height:8.18px;line-height:9.68px;background:rgb(255,152,152);font-size:4.5px">2.83</div>
<div class="c" style="left:427.20px;top:816.46px;width:17.75px;height:8.18px;line-height:9.68px;background:#f9f9fd;font-size:4.5px">0.00</div>
<div class="c" style="left:444.65px;top:816.46px;width:17.75px;height:8.18px;line-height:9.68px;background:rgb(255,150,150);font-size:4.5px">2.87</div>
<div class="c" style="left:462.10px;top:816.46px;width:17.75px;height:8.18px;line-height:9.68px;background:#f9f9fd;font-size:4.5px">0.00</div>
<div class="c" style="left:479.55px;top:816.46px;width:17.75px;height:8.18px;line-height:9.68px;background:#f9f9fd;font-size:4.5px">0.00</div>
<div class="c" style="left:427.20px;top:824.34px;width:17.75px;height:8.18px;line-height:9.68px;background:#f9f9fd;font-size:4.5px">0.00</div>
<div class="c" style="left:444.65px;top:824.34px;width:17.75px;height:8.18px;line-height:9.68px;background:rgb(255,151,151);font-size:4.5px">2.85</div>
<div class="c" style="left:462.10px;top:824.34px;width:17.75px;height:8.18px;line-height:9.68px;background:#f9f9fd;font-size:4.5px">0.00</div>
<div class="c" style="left:479.55px;top:824.34px;width:17.75px;height:8.18px;line-height:9.68px;background:#f9f9fd;font-size:4.5px">0.00</div>
<div class="c" style="left:427.20px;top:832.21px;width:17.75px;height:8.18px;line-height:9.68px;background:#f9f9fd;font-size:4.5px">0.00</div>
<div class="c" style="left:444.65px;top:832.21px;width:17.75px;height:8.18px;line-height:9.68px;background:rgb(255,152,152);font-size:4.5px">2.82</div>
<div class="c" style="left:462.10px;top:832.21px;width:17.75px;height:8.18px;line-height:9.68px;background:#f9f9fd;font-size:4.5px">0.00</div>
<div class="c" style="left:479.55px;top:832.21px;width:17.75px;height:8.18px;line-height:9.68px;background:#f9f9fd;font-size:4.5px">0.00</div>
<div class="c" style="left:427.20px;top:840.09px;width:17.75px;height:8.18px;line-height:9.68px;background:#f9f9fd;font-size:4.5px">0.00</div>
<div class="c" style="left:444.65px;top:840.09px;width:17.75px;height:8.18px;line-height:9.68px;background:rgb(255,153,153);font-size:4.5px">2.79</div>
<div class="c" style="left:462.10px;top:840.09px;width:17.75px;height:8.18px;line-height:9.68px;background:#f9f9fd;font-size:4.5px">0.00</div>
<div class="c" style="left:479.55px;top:840.09px;width:17.75px;height:8.18px;line-height:9.68px;background:rgb(255,161,161);font-size:4.5px">2.59</div>
<div class="c" style="left:427.20px;top:847.96px;width:17.75px;height:8.18px;line-height:9.68px;background:rgb(255,152,152);font-size:4.5px">2.83</div>
<div class="c" style="left:444.65px;top:847.96px;width:17.75px;height:8.18px;line-height:9.68px;background:rgb(255,151,151);font-size:4.5px">2.86</div>
<div class="c" style="left:462.10px;top:847.96px;width:17.75px;height:8.18px;line-height:9.68px;background:#f9f9fd;font-size:4.5px">0.00</div>
<div class="c" style="left:479.55px;top:847.96px;width:17.75px;height:8.18px;line-height:9.68px;background:#f9f9fd;font-size:4.5px">0.00</div>
<div class="c" style="left:427.20px;top:855.84px;width:17.75px;height:8.18px;line-height:9.68px;background:rgb(255,150,150);font-size:4.5px">2.87</div>
<div class="c" style="left:444.65px;top:855.84px;width:17.75px;height:8.18px;line-height:9.68px;background:rgb(255,115,115);font-size:4.5px">3.83</div>
<div class="c" style="left:462.10px;top:855.84px;width:17.75px;height:8.18px;line-height:9.68px;background:#f9f9fd;font-size:4.5px">0.00</div>
<div class="c" style="left:479.55px;top:855.84px;width:17.75px;height:8.18px;line-height:9.68px;background:#f9f9fd;font-size:4.5px">0.00</div>
<div class="c" style="left:427.20px;top:863.72px;width:17.75px;height:8.18px;line-height:9.68px;background:rgb(255,164,164);font-size:4.5px">2.49</div>
<div class="c" style="left:444.65px;top:863.72px;width:17.75px;height:8.18px;line-height:9.68px;background:rgb(255,119,119);font-size:4.5px">3.72</div>
<div class="c" style="left:462.10px;top:863.72px;width:17.75px;height:8.18px;line-height:9.68px;background:#f9f9fd;font-size:4.5px">0.00</div>
<div class="c" style="left:479.55px;top:863.72px;width:17.75px;height:8.18px;line-height:9.68px;background:rgb(255,163,163);font-size:4.5px">2.52</div>
<div class="c" style="left:427.20px;top:871.59px;width:17.75px;height:8.18px;line-height:9.68px;background:#f9f9fd;font-size:4.5px">0.00</div>
<div class="c" style="left:444.65px;top:871.59px;width:17.75px;height:8.18px;line-height:9.68px;background:#f9f9fd;font-size:4.5px">0.00</div>
<div class="c" style="left:462.10px;top:871.59px;width:17.75px;height:8.18px;line-height:9.68px;background:#f9f9fd;font-size:4.5px">0.00</div>
<div class="c" style="left:479.55px;top:871.59px;width:17.75px;height:8.18px;line-height:9.68px;background:rgb(154,154,255);font-size:4.5px">- 2.76</div>
<div class="c" style="left:427.20px;top:879.47px;width:17.75px;height:8.18px;line-height:9.68px;background:#f9f9fd;font-size:4.5px">0.00</div>
<div class="c" style="left:444.65px;top:879.47px;width:17.75px;height:8.18px;line-height:9.68px;background:#f9f9fd;font-size:4.5px">0.00</div>
<div class="c" style="left:462.10px;top:879.47px;width:17.75px;height:8.18px;line-height:9.68px;background:#f9f9fd;font-size:4.5px">0.00</div>
<div class="c" style="left:479.55px;top:879.47px;width:17.75px;height:8.18px;line-height:9.68px;background:rgb(141,141,255);font-size:4.5px">- 3.14</div>
<div class="c" style="left:427.20px;top:887.34px;width:17.75px;height:8.18px;line-height:9.68px;background:#f9f9fd;font-size:4.5px">0.00</div>
<div class="c" style="left:444.65px;top:887.34px;width:17.75px;height:8.18px;line-height:9.68px;background:#f9f9fd;font-size:4.5px">0.00</div>
<div class="c" style="left:462.10px;top:887.34px;width:17.75px;height:8.18px;line-height:9.68px;background:#f9f9fd;font-size:4.5px">0.00</div>
<div class="c" style="left:479.55px;top:887.34px;width:17.75px;height:8.18px;line-height:9.68px;background:rgb(43,43,255);font-size:4.5px">- 5.81</div>
<div class="c" style="left:427.20px;top:895.22px;width:17.75px;height:8.18px;line-height:9.68px;background:rgb(255,132,132);font-size:4.5px">3.39</div>
<div class="c" style="left:444.65px;top:895.22px;width:17.75px;height:8.18px;line-height:9.68px;background:#f9f9fd;font-size:4.5px">0.00</div>
<div class="c" style="left:462.10px;top:895.22px;width:17.75px;height:8.18px;line-height:9.68px;background:rgb(255,161,161);font-size:4.5px">2.57</div>
<div class="c" style="left:479.55px;top:895.22px;width:17.75px;height:8.18px;line-height:9.68px;background:rgb(29,29,255);font-size:4.5px">- 6.21</div>
<div class="t" style="left:499.00px;top:540.00px;height:7.88px;line-height:10.28px;font-size:7.5px">Guanidinosuccinate</div>
<div class="t" style="left:499.00px;top:547.88px;height:7.88px;line-height:10.28px;font-size:7.5px">Isobutyrate</div>
<div class="t" style="left:499.00px;top:555.75px;height:7.88px;line-height:10.28px;font-size:7.5px">Cadaverine</div>
<div class="t" style="left:499.00px;top:563.63px;height:7.88px;line-height:10.28px;font-size:7.5px">Pyroglutamate</div>
<div class="t" style="left:499.00px;top:571.50px;height:7.88px;line-height:10.28px;font-size:7.5px">1,3- Dimethylurate</div>
<div class="t" style="left:499.00px;top:579.38px;height:7.88px;line-height:10.28px;font-size:7.5px">2- Hydroxyisobutyrate</div>
<div class="t" style="left:499.00px;top:587.26px;height:7.88px;line-height:10.28px;font-size:7.5px">Acetate</div>
<div class="t" style="left:499.00px;top:595.13px;height:7.88px;line-height:10.28px;font-size:7.5px">Gluconate</div>
<div class="t" style="left:499.00px;top:603.01px;height:7.88px;line-height:10.28px;font-size:7.5px">Succinate</div>
<div class="t" style="left:499.00px;top:610.88px;height:7.88px;line-height:10.28px;font-size:7.5px">Trimethylamine N- oxide</div>
<div class="t" style="left:499.00px;top:618.76px;height:7.88px;line-height:10.28px;font-size:7.5px">Glucose</div>
<div class="t" style="left:499.00px;top:626.64px;height:7.88px;line-height:10.28px;font-size:7.5px">Betaine</div>
<div class="t" style="left:499.00px;top:634.51px;height:7.88px;line-height:10.28px;font-size:7.5px">Glutamate</div>
<div class="t" style="left:499.00px;top:642.39px;height:7.88px;line-height:10.28px;font-size:7.5px">Tropate</div>
<div class="t" style="left:499.00px;top:650.26px;height:7.88px;line-height:10.28px;font-size:7.5px">Fucose</div>
<div class="t" style="left:499.00px;top:658.14px;height:7.88px;line-height:10.28px;font-size:7.5px">Alanine</div>
<div class="t" style="left:499.00px;top:666.02px;height:7.88px;line-height:10.28px;font-size:7.5px">1,7- Dimethylxanthine</div>
<div class="t" style="left:499.00px;top:673.89px;height:7.88px;line-height:10.28px;font-size:7.5px">Oxypurinol</div>
<div class="t" style="left:499.00px;top:681.77px;height:7.88px;line-height:10.28px;font-size:7.5px">Glycine</div>
<div class="t" style="left:499.00px;top:689.64px;height:7.88px;line-height:10.28px;font-size:7.5px">Lactate</div>
<div class="t" style="left:499.00px;top:697.52px;height:7.88px;line-height:10.28px;font-size:7.5px">Nicotinamide N- oxide</div>
<div class="t" style="left:499.00px;top:705.40px;height:7.88px;line-height:10.28px;font-size:7.5px">Guanidoacetate</div>
<div class="t" style="left:499.00px;top:713.27px;height:7.88px;line-height:10.28px;font-size:7.5px">2- Phenylpropionate</div>
<div class="t" style="left:499.00px;top:721.15px;height:7.88px;line-height:10.28px;font-size:7.5px">N6- Acetyllysine</div>
<div class="t" style="left:499.00px;top:729.02px;height:7.88px;line-height:10.28px;font-size:7.5px">3- Hydroxyisovalerate</div>
<div class="t" style="left:499.00px;top:736.90px;height:7.88px;line-height:10.28px;font-size:7.5px">Arabinose</div>
<div class="t" style="left:499.00px;top:744.78px;height:7.88px;line-height:10.28px;font-size:7.5px">Tartrate</div>
<div class="t" style="left:499.00px;top:752.65px;height:7.88px;line-height:10.28px;font-size:7.5px">4- Pyridoxate</div>
<div class="t" style="left:499.00px;top:760.53px;height:7.88px;line-height:10.28px;font-size:7.5px">Histamine</div>
<div class="t" style="left:499.00px;top:768.40px;height:7.88px;line-height:10.28px;font-size:7.5px">Saccharopine</div>
<div class="t" style="left:499.00px;top:776.28px;height:7.88px;line-height:10.28px;font-size:7.5px">2- Oxoisocaproate</div>
<div class="t" style="left:499.00px;top:784.16px;height:7.88px;line-height:10.28px;font-size:7.5px">Anserine</div>
<div class="t" style="left:499.00px;top:792.03px;height:7.88px;line-height:10.28px;font-size:7.5px">myo- Inositol</div>
<div class="t" style="left:499.00px;top:799.91px;height:7.88px;line-height:10.28px;font-size:7.5px">trans- Aconitate</div>
<div class="t" style="left:499.00px;top:807.78px;height:7.88px;line-height:10.28px;font-size:7.5px">GTP</div>
<div class="t" style="left:499.00px;top:815.66px;height:7.88px;line-height:10.28px;font-size:7.5px">S- Adenosylhomocysteine</div>
<div class="t" style="left:499.00px;top:823.54px;height:7.88px;line-height:10.28px;font-size:7.5px">Xanthine</div>
<div class="t" style="left:499.00px;top:831.41px;height:7.88px;line-height:10.28px;font-size:7.5px">Creatinine</div>
<div class="t" style="left:499.00px;top:839.29px;height:7.88px;line-height:10.28px;font-size:7.5px">Glycolate</div>
<div class="t" style="left:499.00px;top:847.16px;height:7.88px;line-height:10.28px;font-size:7.5px">Creatine</div>
<div class="t" style="left:499.00px;top:855.04px;height:7.88px;line-height:10.28px;font-size:7.5px">Cystathionine</div>
<div class="t" style="left:499.00px;top:862.92px;height:7.88px;line-height:10.28px;font-size:7.5px">2- Methylglutarate</div>
<div class="t" style="left:499.00px;top:870.79px;height:7.88px;line-height:10.28px;font-size:7.5px">5- Aminopentanoate</div>
<div class="t" style="left:499.00px;top:878.67px;height:7.88px;line-height:10.28px;font-size:7.5px">Taurine</div>
<div class="t" style="left:499.00px;top:886.54px;height:7.88px;line-height:10.28px;font-size:7.5px">2'- Deoxyuridine</div>
<div class="t" style="left:499.00px;top:894.42px;height:7.88px;line-height:10.28px;font-size:7.5px">Carnitine</div>
<div class="t gb" style="left:499.00px;top:530.85px;line-height:10px;font-size:5.7px">Group</div>
<div class="v" style="left:430.93px;top:905.00px;width:10px;line-height:10px;font-size:7.3px">NCTC8325_VAN/CT</div>
<div class="v" style="left:448.38px;top:905.00px;width:10px;line-height:10px;font-size:7.3px">NCTC8325_OXA/CT</div>
<div class="v" style="left:465.82px;top:905.00px;width:10px;line-height:10px;font-size:7.3px">NCTC8325_CHL/CT</div>
<div class="v" style="left:483.27px;top:905.00px;width:10px;line-height:10px;font-size:7.3px">NCTC13169 _CHL/CT</div>
<div class="b" style="left:589.10px;top:532.60px;width:4.90px;height:70.90px;background:linear-gradient(to bottom,#ff0000,#ffffff,#0000ff)"></div>
<div class="t" style="left:597.80px;top:527.60px;line-height:10px;font-size:4.6px">7</div>
<div class="t" style="left:597.80px;top:532.66px;line-height:10px;font-size:4.6px">6</div>
<div class="t" style="left:597.80px;top:537.73px;line-height:10px;font-size:4.6px">5</div>
<div class="t" style="left:597.80px;top:542.79px;line-height:10px;font-size:4.6px">4</div>
<div class="t" style="left:597.80px;top:547.86px;line-height:10px;font-size:4.6px">3</div>
<div class="t" style="left:597.80px;top:552.92px;line-height:10px;font-size:4.6px">2</div>
<div class="t" style="left:597.80px;top:557.99px;line-height:10px;font-size:4.6px">1</div>
<div class="t" style="left:597.80px;top:563.05px;line-height:10px;font-size:4.6px">0</div>
<div class="v" style="left:593.80px;top:571.50px;width:8px;line-height:8px;font-size:4.6px">- 1</div>
<div class="v" style="left:593.80px;top:576.57px;width:8px;line-height:8px;font-size:4.6px">- 2</div>
<div class="v" style="left:593.80px;top:581.63px;width:8px;line-height:8px;font-size:4.6px">- 3</div>
<div class="v" style="left:593.80px;top:586.70px;width:8px;line-height:8px;font-size:4.6px">- 4</div>
<div class="v" style="left:593.80px;top:591.76px;width:8px;line-height:8px;font-size:4.6px">- 5</div>
<div class="v" style="left:593.80px;top:596.83px;width:8px;line-height:8px;font-size:4.6px">- 6</div>
<div class="v" style="left:593.80px;top:601.89px;width:8px;line-height:8px;font-size:4.6px">- 7</div>
<div class="t gb" style="left:605.70px;top:529.80px;line-height:10px;font-size:5.3px">Group</div>
<div class="b" style="left:605.70px;top:538.70px;width:8.40px;height:8.40px;background:#1ef7f7"></div>
<div class="b" style="left:605.70px;top:547.10px;width:8.40px;height:7.70px;background:#ff8383"></div>
<div class="t" style="left:615.60px;top:537.80px;line-height:10px;font-size:5.6px">NCTC13169</div>
<div class="t" style="left:615.60px;top:546.00px;line-height:10px;font-size:5.6px">NCTC8325</div>
<div class="t" style="left:364.40px;top:501.10px;line-height:24px;letter-spacing:0.7px;-webkit-text-stroke:0;font-size:21.5px">d)</div>
<svg width="685" height="981" viewBox="0 0 685 981" fill="none" stroke="#7c7c7c" stroke-width="1">
<path d="M71.00 50.50H64.50V64.50H71.00"/>
<path d="M71.00 77.50H66.50V91.50H71.00"/>
<path d="M66.50 84.50H63.50V105.50H71.00"/>
<path d="M63.50 95.50H60.50V119.50H71.00"/>
<path d="M71.00 132.50H66.50V146.50H71.00"/>
<path d="M71.00 160.50H63.50V173.50H71.00"/>
<path d="M63.50 167.50H62.50V187.50H71.00"/>
<path d="M66.50 139.50H59.50V177.50H62.50"/>
<path d="M60.50 107.50H55.50V158.50H59.50"/>
<path d="M71.00 201.50H70.50V215.50H71.00"/>
<path d="M70.50 208.50H63.50V228.50H71.00"/>
<path d="M63.50 218.50H60.50V242.50H71.00"/>
<path d="M71.00 256.50H70.50V269.50H71.00"/>
<path d="M70.50 263.50H64.50V283.50H71.00"/>
<path d="M71.00 297.50H62.50V311.50H71.00"/>
<path d="M64.50 273.50H58.50V304.50H62.50"/>
<path d="M60.50 230.50H56.50V288.50H58.50"/>
<path d="M71.00 324.50H63.50V338.50H71.00"/>
<path d="M63.50 331.50H58.50V352.50H71.00"/>
<path d="M56.50 259.50H53.50V342.50H58.50"/>
<path d="M55.50 132.50H47.50V300.50H53.50"/>
<path d="M64.50 57.50H44.50V216.50H47.50"/>
<path d="M77.50 35.80V27.50H90.50V35.80"/>
<path d="M84.50 27.50V22.50H104.50V35.80"/>
<path d="M94.50 22.50V16.50H117.50V35.80"/>
<path d="M130.50 35.80V19.50H143.50V35.80"/>
<path d="M156.50 35.80V18.50H170.50V35.80"/>
<path d="M137.50 19.50V17.50H163.50V18.50"/>
<path d="M105.50 16.50V9.50H150.50V17.50"/>
<path d="M416.40 46.50H416.50V55.50H416.40"/>
<path d="M416.50 50.50H416.50V65.50H416.40"/>
<path d="M416.50 58.50H415.50V74.50H416.40"/>
<path d="M416.40 84.50H412.50V93.50H416.40"/>
<path d="M415.50 66.50H409.50V89.50H412.50"/>
<path d="M416.40 103.50H416.50V112.50H416.40"/>
<path d="M416.50 108.50H415.50V122.50H416.40"/>
<path d="M416.40 131.50H412.50V141.50H416.40"/>
<path d="M415.50 115.50H410.50V136.50H412.50"/>
<path d="M409.50 77.50H406.50V125.50H410.50"/>
<path d="M416.40 150.50H416.50V160.50H416.40"/>
<path d="M416.50 155.50H415.50V170.50H416.40"/>
<path d="M415.50 162.50H415.50V179.50H416.40"/>
<path d="M415.50 171.50H412.50V189.50H416.40"/>
<path d="M416.40 198.50H414.50V208.50H416.40"/>
<path d="M414.50 203.50H411.50V217.50H416.40"/>
<path d="M411.50 210.50H410.50V227.50H416.40"/>
<path d="M410.50 218.50H410.50V236.50H416.40"/>
<path d="M410.50 227.50H409.50V246.50H416.40"/>
<path d="M412.50 180.50H408.50V237.50H409.50"/>
<path d="M406.50 101.50H405.50V208.50H408.50"/>
<path d="M416.40 255.50H415.50V265.50H416.40"/>
<path d="M415.50 260.50H414.50V274.50H416.40"/>
<path d="M414.50 267.50H410.50V284.50H416.40"/>
<path d="M416.40 293.50H412.50V303.50H416.40"/>
<path d="M412.50 298.50H409.50V313.50H416.40"/>
<path d="M410.50 276.50H407.50V305.50H409.50"/>
<path d="M416.40 322.50H412.50V332.50H416.40"/>
<path d="M412.50 327.50H409.50V341.50H416.40"/>
<path d="M409.50 334.50H407.50V351.50H416.40"/>
<path d="M407.50 290.50H404.50V342.50H407.50"/>
<path d="M405.50 155.50H403.50V316.50H404.50"/>
<path d="M416.40 360.50H415.50V370.50H416.40"/>
<path d="M416.40 379.50H415.50V389.50H416.40"/>
<path d="M415.50 365.50H408.50V384.50H415.50"/>
<path d="M408.50 374.50H402.50V398.50H416.40"/>
<path d="M403.50 236.50H391.50V386.50H402.50"/>
<path d="M423.50 34.40V23.50H437.50V34.40"/>
<path d="M430.50 23.50V17.50H451.50V34.40"/>
<path d="M465.50 34.40V20.50H479.50V34.40"/>
<path d="M441.50 17.50V14.50H472.50V20.50"/>
<path d="M493.50 34.40V16.50H508.50V34.40"/>
<path d="M456.50 14.50V13.50H501.50V16.50"/>
<path d="M478.50 13.50V9.50H522.50V34.40"/>
<path d="M72.70 567.50H71.50V576.50H72.70"/>
<path d="M71.50 571.50H70.50V585.50H72.70"/>
<path d="M72.70 594.50H71.50V603.50H72.70"/>
<path d="M71.50 599.50H69.50V612.50H72.70"/>
<path d="M70.50 578.50H65.50V605.50H69.50"/>
<path d="M65.50 592.50H59.50V621.50H72.70"/>
<path d="M72.70 630.50H72.50V639.50H72.70"/>
<path d="M72.70 648.50H72.50V657.50H72.70"/>
<path d="M72.50 635.50H72.50V653.50H72.50"/>
<path d="M72.70 666.50H72.50V676.50H72.70"/>
<path d="M72.50 644.50H70.50V671.50H72.50"/>
<path d="M70.50 657.50H69.50V685.50H72.70"/>
<path d="M69.50 671.50H63.50V694.50H72.70"/>
<path d="M72.70 703.50H72.50V712.50H72.70"/>
<path d="M72.70 721.50H71.50V730.50H72.70"/>
<path d="M71.50 725.50H65.50V739.50H72.70"/>
<path d="M72.50 707.50H62.50V732.50H65.50"/>
<path d="M63.50 682.50H57.50V720.50H62.50"/>
<path d="M72.70 748.50H61.50V757.50H72.70"/>
<path d="M57.50 701.50H54.50V753.50H61.50"/>
<path d="M72.70 766.50H71.50V775.50H72.70"/>
<path d="M71.50 771.50H66.50V784.50H72.70"/>
<path d="M72.70 793.50H71.50V802.50H72.70"/>
<path d="M71.50 798.50H65.50V811.50H72.70"/>
<path d="M66.50 777.50H60.50V805.50H65.50"/>
<path d="M54.50 727.50H49.50V791.50H60.50"/>
<path d="M59.50 606.50H44.50V759.50H49.50"/>
<path d="M80.50 554.40V540.50H96.50V554.40"/>
<path d="M88.50 540.50V538.50H112.50V554.40"/>
<path d="M100.50 538.50V526.50H128.50V554.40"/>
<path d="M427.20 544.50H426.50V552.50H427.20"/>
<path d="M426.50 548.50H426.50V560.50H427.20"/>
<path d="M426.50 554.50H426.50V568.50H427.20"/>
<path d="M426.50 561.50H418.50V576.50H427.20"/>
<path d="M427.20 584.50H426.50V591.50H427.20"/>
<path d="M426.50 588.50H425.50V599.50H427.20"/>
<path d="M427.20 607.50H426.50V615.50H427.20"/>
<path d="M426.50 611.50H425.50V623.50H427.20"/>
<path d="M425.50 593.50H424.50V617.50H425.50"/>
<path d="M424.50 605.50H423.50V631.50H427.20"/>
<path d="M427.20 639.50H426.50V647.50H427.20"/>
<path d="M426.50 643.50H423.50V655.50H427.20"/>
<path d="M423.50 618.50H418.50V649.50H423.50"/>
<path d="M418.50 633.50H416.50V662.50H427.20"/>
<path d="M418.50 568.50H412.50V648.50H416.50"/>
<path d="M427.20 670.50H426.50V678.50H427.20"/>
<path d="M426.50 674.50H426.50V686.50H427.20"/>
<path d="M426.50 680.50H426.50V694.50H427.20"/>
<path d="M427.20 702.50H426.50V710.50H427.20"/>
<path d="M426.50 687.50H425.50V706.50H426.50"/>
<path d="M427.20 718.50H426.50V725.50H427.20"/>
<path d="M426.50 721.50H426.50V733.50H427.20"/>
<path d="M426.50 727.50H425.50V741.50H427.20"/>
<path d="M425.50 734.50H425.50V749.50H427.20"/>
<path d="M425.50 742.50H422.50V757.50H427.20"/>
<path d="M425.50 696.50H420.50V749.50H422.50"/>
<path d="M427.20 765.50H421.50V773.50H427.20"/>
<path d="M421.50 769.50H418.50V781.50H427.20"/>
<path d="M420.50 723.50H416.50V775.50H418.50"/>
<path d="M427.20 788.50H426.50V796.50H427.20"/>
<path d="M426.50 792.50H425.50V804.50H427.20"/>
<path d="M425.50 798.50H421.50V812.50H427.20"/>
<path d="M427.20 820.50H426.50V828.50H427.20"/>
<path d="M426.50 824.50H426.50V836.50H427.20"/>
<path d="M426.50 830.50H421.50V844.50H427.20"/>
<path d="M427.20 851.50H426.50V859.50H427.20"/>
<path d="M426.50 855.50H421.50V867.50H427.20"/>
<path d="M421.50 837.50H418.50V861.50H421.50"/>
<path d="M421.50 805.50H416.50V849.50H418.50"/>
<path d="M416.50 749.50H414.50V827.50H416.50"/>
<path d="M427.20 875.50H426.50V883.50H427.20"/>
<path d="M426.50 879.50H420.50V891.50H427.20"/>
<path d="M420.50 885.50H415.50V899.50H427.20"/>
<path d="M414.50 788.50H405.50V892.50H415.50"/>
<path d="M412.50 608.50H402.50V840.50H405.50"/>
<path d="M435.50 533.10V517.50H453.50V533.10"/>
<path d="M444.50 517.50V517.50H470.50V533.10"/>
<path d="M457.50 517.50V507.50H488.50V533.10"/>
</svg>
</div></body></html>
